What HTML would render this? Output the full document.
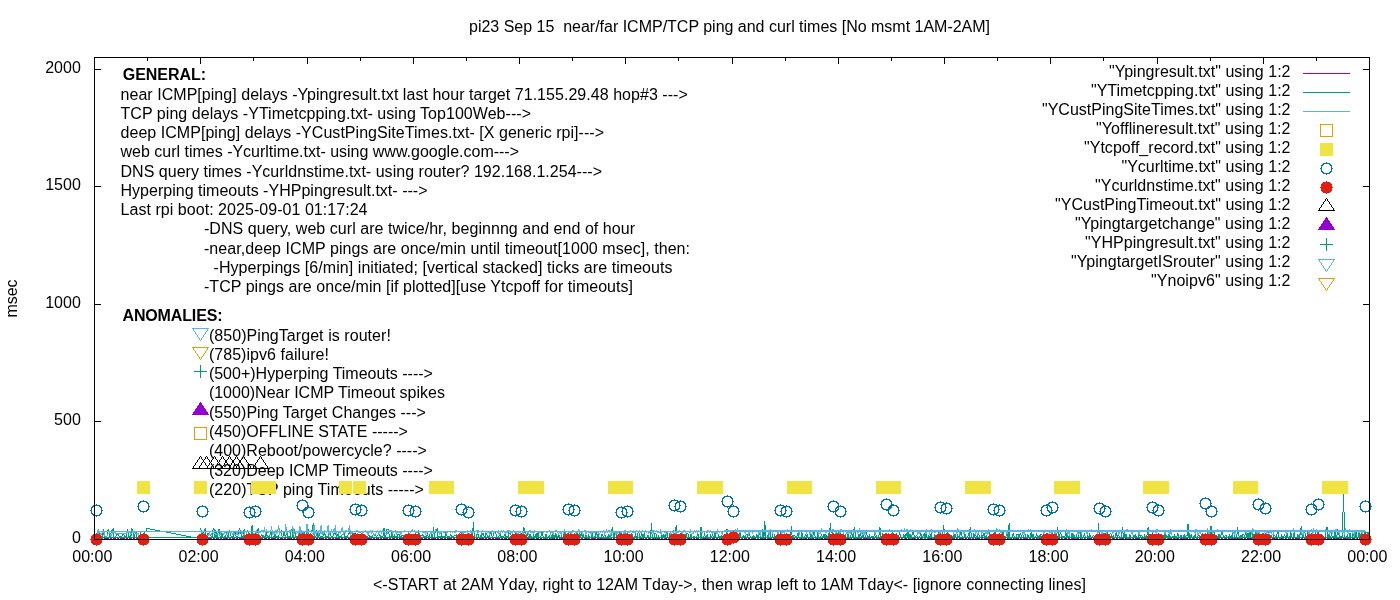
<!DOCTYPE html>
<html lang="en"><head><meta charset="utf-8"><title>pi23 ping chart</title>
<style>html,body{margin:0;padding:0;background:#fff;overflow:hidden}svg{display:block}text{font-family:"Liberation Sans", sans-serif;font-size:16px;fill:#000;white-space:pre}.b{font-weight:bold}.ln{fill:none;stroke-width:1;shape-rendering:crispEdges}.fr{fill:none;stroke:#000;stroke-width:1;shape-rendering:crispEdges}</style></head><body>
<svg width="1400" height="600" viewBox="0 0 1400 600">
<rect x="0" y="0" width="1400" height="600" fill="#fff"/>
<text x="469" y="31.5" textLength="521" lengthAdjust="spacing">pi23 Sep 15  near/far ICMP/TCP ping and curl times [No msmt 1AM-2AM]</text>
<text x="373" y="589.5" textLength="713" lengthAdjust="spacing">&lt;-START at 2AM Yday, right to 12AM Tday-&gt;, then wrap left to 1AM Tday&lt;- [ignore connecting lines]</text>
<text transform="translate(17,298.5) rotate(-90)" text-anchor="middle">msec</text>
<text x="80.8" y="543" text-anchor="end">0</text>
<text x="80.8" y="425" text-anchor="end">500</text>
<text x="80.8" y="308" text-anchor="end">1000</text>
<text x="80.8" y="190" text-anchor="end">1500</text>
<text x="80.8" y="73" text-anchor="end">2000</text>
<text x="92.3" y="561.5" text-anchor="middle">00:00</text>
<text x="198.55" y="561.5" text-anchor="middle">02:00</text>
<text x="304.8" y="561.5" text-anchor="middle">04:00</text>
<text x="411.05" y="561.5" text-anchor="middle">06:00</text>
<text x="517.3" y="561.5" text-anchor="middle">08:00</text>
<text x="623.55" y="561.5" text-anchor="middle">10:00</text>
<text x="729.8" y="561.5" text-anchor="middle">12:00</text>
<text x="836.05" y="561.5" text-anchor="middle">14:00</text>
<text x="942.3" y="561.5" text-anchor="middle">16:00</text>
<text x="1048.55" y="561.5" text-anchor="middle">18:00</text>
<text x="1154.8" y="561.5" text-anchor="middle">20:00</text>
<text x="1261.05" y="561.5" text-anchor="middle">22:00</text>
<text x="1367.3" y="561.5" text-anchor="middle">00:00</text>
<text x="122.8" y="80" textLength="83.2" lengthAdjust="spacing" class="b">GENERAL:</text>
<text x="120.5" y="100" textLength="567.3" lengthAdjust="spacing">near ICMP[ping] delays -Ypingresult.txt last hour target 71.155.29.48 hop#3 ---&gt;</text>
<text x="120.5" y="119" textLength="410.5" lengthAdjust="spacing">TCP ping delays -YTimetcpping.txt- using Top100Web---&gt;</text>
<text x="120.5" y="138" textLength="483.5" lengthAdjust="spacing">deep ICMP[ping] delays -YCustPingSiteTimes.txt- [X generic rpi]---&gt;</text>
<text x="120.5" y="157" textLength="398.5" lengthAdjust="spacing">web curl times -Ycurltime.txt- using www.google.com---&gt;</text>
<text x="120.5" y="176.5" textLength="481.5" lengthAdjust="spacing">DNS query times -Ycurldnstime.txt- using router? 192.168.1.254---&gt;</text>
<text x="120.5" y="195.5" textLength="307" lengthAdjust="spacing">Hyperping timeouts -YHPpingresult.txt- ---&gt;</text>
<text x="120.5" y="215" textLength="247" lengthAdjust="spacing">Last rpi boot: 2025-09-01 01:17:24</text>
<text x="204" y="234" textLength="431" lengthAdjust="spacing">-DNS query, web curl are twice/hr, beginnng and end of hour</text>
<text x="204" y="253.5" textLength="486" lengthAdjust="spacing">-near,deep ICMP pings are once/min until timeout[1000 msec], then:</text>
<text x="213.5" y="272.5" textLength="459" lengthAdjust="spacing">-Hyperpings [6/min] initiated; [vertical stacked] ticks are timeouts</text>
<text x="204" y="292" textLength="429" lengthAdjust="spacing">-TCP pings are once/min [if plotted][use Ytcpoff for timeouts]</text>
<text x="122.5" y="321" textLength="100" lengthAdjust="spacing" class="b">ANOMALIES:</text>
<text x="208.9" y="340.8" textLength="182" lengthAdjust="spacing">(850)PingTarget is router!</text>
<text x="208.9" y="359.8" textLength="120" lengthAdjust="spacing">(785)ipv6 failure!</text>
<text x="208.9" y="379.3" textLength="224" lengthAdjust="spacing">(500+)Hyperping Timeouts ----&gt;</text>
<text x="208.9" y="398.3" textLength="236" lengthAdjust="spacing">(1000)Near ICMP Timeout spikes</text>
<text x="208.9" y="417.8" textLength="217" lengthAdjust="spacing">(550)Ping Target Changes ---&gt;</text>
<text x="208.9" y="436.8" textLength="199" lengthAdjust="spacing">(450)OFFLINE STATE -----&gt;</text>
<text x="208.9" y="456.3" textLength="218" lengthAdjust="spacing">(400)Reboot/powercycle? ----&gt;</text>
<text x="208.9" y="475.8" textLength="224" lengthAdjust="spacing">(320)Deep ICMP Timeouts ----&gt;</text>
<text x="208.9" y="494.8" textLength="215" lengthAdjust="spacing">(220)TCP ping Timeouts -----&gt;</text>
<path class="fr" d="M94.5 539.5v-6M94.5 57.5v6M147.5 539.5v-3M147.5 57.5v3M200.5 539.5v-6M200.5 57.5v6M253.5 539.5v-3M253.5 57.5v3M307.5 539.5v-6M307.5 57.5v6M360.5 539.5v-3M360.5 57.5v3M413.5 539.5v-6M413.5 57.5v6M466.5 539.5v-3M466.5 57.5v3M519.5 539.5v-6M519.5 57.5v6M572.5 539.5v-3M572.5 57.5v3M625.5 539.5v-6M625.5 57.5v6M678.5 539.5v-3M678.5 57.5v3M732.5 539.5v-6M732.5 57.5v6M785.5 539.5v-3M785.5 57.5v3M838.5 539.5v-6M838.5 57.5v6M891.5 539.5v-3M891.5 57.5v3M944.5 539.5v-6M944.5 57.5v6M997.5 539.5v-3M997.5 57.5v3M1050.5 539.5v-6M1050.5 57.5v6M1103.5 539.5v-3M1103.5 57.5v3M1157.5 539.5v-6M1157.5 57.5v6M1210.5 539.5v-3M1210.5 57.5v3M1263.5 539.5v-6M1263.5 57.5v6M1316.5 539.5v-3M1316.5 57.5v3M1369.5 539.5v-6M1369.5 57.5v6M94.5 539.5h6.5M1369.5 539.5h-6.5M94.5 421.5h6.5M1369.5 421.5h-6.5M94.5 304.5h6.5M1369.5 304.5h-6.5M94.5 186.5h6.5M1369.5 186.5h-6.5M94.5 69.5h6.5M1369.5 69.5h-6.5"/>
<path class="ln" stroke="#9400d3" stroke-dasharray="3 1 2 1 5 1 2 1" d="M97 538.5H147M200 538.5H1365"/>
<polyline class="ln" stroke="#009e73" points="200.8,527.8 201.6,536.3 202.5,537.2 203.4,537.1 204.3,530.3 205.2,529.2 206.1,536.8 206.9,537.1 207.8,533.5 208.7,533.2 209.6,533.1 210.5,535.9 211.4,536.2 212.3,536.5 213.1,528.9 214.0,528.9 214.9,537.5 215.8,530.1 216.7,536.7 217.6,536.8 218.5,529.4 219.3,529.6 220.2,537.2 221.1,537.6 222.0,532.9 222.9,537.0 223.8,537.6 224.7,536.2 225.5,537.3 226.4,532.6 227.3,536.1 228.2,536.5 229.1,531.4 230.0,530.7 230.9,536.1 231.7,537.0 232.6,536.6 233.5,537.5 234.4,532.2 235.3,532.5 236.2,537.0 237.1,535.9 237.9,536.6 238.8,530.6 239.7,528.9 240.6,531.3 241.5,537.2 242.4,536.9 243.2,537.4 244.1,528.9 245.0,537.1 245.9,536.1 246.8,531.3 247.7,530.3 248.6,536.0 249.4,536.6 250.3,537.4 251.2,532.6 252.1,524.9 253.0,533.6 253.9,536.5 254.8,536.6 255.6,537.0 256.5,532.3 257.4,532.6 258.3,527.8 259.2,536.7 260.1,537.1 261.0,536.3 261.8,534.5 262.7,537.4 263.6,535.9 264.5,536.5 265.4,536.9 266.3,531.5 267.2,536.6 268.0,536.4 268.9,537.0 269.8,536.7 270.7,530.2 271.6,536.0 272.5,537.6 273.4,536.3 274.2,536.2 275.1,534.4 276.0,537.6 276.9,536.5 277.8,536.2 278.7,536.7 279.6,531.2 280.4,531.2 281.3,531.0 282.2,537.0 283.1,535.9 284.0,532.2 284.9,535.9 285.8,536.8 286.6,528.4 287.5,536.0 288.4,536.3 289.3,536.6 290.2,536.9 291.1,529.8 291.9,529.0 292.8,536.9 293.7,536.7 294.6,528.8 295.5,536.4 296.4,536.4 297.3,536.5 298.1,535.9 299.0,533.3 299.9,533.6 300.8,533.8 301.7,536.0 302.6,536.1 303.5,537.4 304.3,530.8 305.2,536.5 306.1,537.1 307.0,528.5 307.9,528.3 308.8,537.3 309.7,537.5 310.5,536.9 311.4,530.4 312.3,530.5 313.2,523.0 314.1,536.2 315.0,536.1 315.9,536.7 316.7,530.3 317.6,537.6 318.5,537.2 319.4,533.6 320.3,537.6 321.2,536.6 322.1,537.3 322.9,536.4 323.8,534.6 324.7,533.7 325.6,536.2 326.5,536.5 327.4,536.5 328.2,537.3 329.1,532.6 330.0,531.6 330.9,536.1 331.8,537.5 332.7,537.0 333.6,533.7 334.4,533.0 335.3,532.7 336.2,536.1 337.1,536.2 338.0,534.0 338.9,537.3 339.8,536.6 340.6,536.5 341.5,536.5 342.4,534.1 343.3,534.1 344.2,533.9 345.1,537.0 346.0,536.3 346.8,536.1 347.7,536.0 348.6,533.8 349.5,532.9 350.4,533.6 351.3,536.0 352.2,537.0 353.0,533.2 353.9,532.9 354.8,536.9 355.7,537.4 356.6,536.5 357.5,532.9 358.4,536.7 359.2,537.2 360.1,534.8 361.0,537.5 361.9,536.3 362.8,536.6 363.7,537.1 364.6,535.1 365.4,537.4 366.3,537.4 367.2,537.5 368.1,536.0 369.0,534.8 369.9,536.5 370.8,537.3 371.6,536.9 372.5,536.1 373.4,534.3 374.3,535.1 375.2,534.2 376.1,536.2 376.9,536.4 377.8,535.2 378.7,534.5 379.6,534.2 380.5,537.2 381.4,536.7 382.3,536.3 383.1,536.0 384.0,528.0 384.9,536.5 385.8,536.3 386.7,529.5 387.6,529.6 388.5,529.7 389.3,536.5 390.2,537.3 391.1,536.3 392.0,532.4 392.9,537.0 393.8,536.9 394.7,535.0 395.5,536.9 396.4,536.7 397.3,536.3 398.2,534.1 399.1,534.0 400.0,537.4 400.9,536.3 401.7,535.9 402.6,535.2 403.5,536.0 404.4,537.4 405.3,537.5 406.2,535.9 407.1,536.0 407.9,535.4 408.8,535.6 409.7,537.3 410.6,536.0 411.5,537.2 412.4,536.3 413.2,535.5 414.1,536.2 415.0,535.8 415.9,536.4 416.8,536.8 417.7,537.5 418.6,529.6 419.4,537.2 420.3,536.9 421.2,535.1 422.1,535.2 423.0,534.6 423.9,537.3 424.8,536.1 425.6,536.8 426.5,537.3 427.4,534.0 428.3,537.1 429.2,536.7 430.1,533.6 431.0,533.8 431.8,536.1 432.7,537.3 433.6,527.0 434.5,537.4 435.4,529.5 436.3,530.5 437.2,529.4 438.0,536.7 438.9,536.7 439.8,536.0 440.7,537.5 441.6,534.4 442.5,537.2 443.4,536.8 444.2,536.1 445.1,536.3 446.0,532.3 446.9,536.1 447.8,536.4 448.7,536.3 449.6,537.1 450.4,535.1 451.3,536.0 452.2,536.6 453.1,537.0 454.0,536.0 454.9,535.5 455.8,536.1 456.6,534.8 457.5,536.2 458.4,537.1 459.3,536.2 460.2,532.5 461.1,532.0 461.9,536.9 462.8,536.4 463.7,532.9 464.6,537.3 465.5,536.6 466.4,536.3 467.3,535.2 468.1,536.2 469.0,536.8 469.9,536.9 470.8,536.4 471.7,533.3 472.6,534.2 473.5,521.9 474.3,536.0 475.2,537.6 476.1,536.8 477.0,533.6 477.9,534.2 478.8,537.2 479.7,537.3 480.5,536.1 481.4,537.3 482.3,533.3 483.2,533.3 484.1,536.2 485.0,536.8 485.9,533.2 486.7,533.4 487.6,536.9 488.5,536.6 489.4,536.9 490.3,532.9 491.2,532.7 492.1,536.7 492.9,537.0 493.8,532.9 494.7,532.2 495.6,532.3 496.5,536.4 497.4,537.6 498.2,536.9 499.1,536.1 500.0,533.5 500.9,536.4 501.8,536.6 502.7,536.9 503.6,537.3 504.4,534.9 505.3,534.7 506.2,537.0 507.1,536.8 508.0,537.0 508.9,533.0 509.8,533.1 510.6,533.8 511.5,536.1 512.4,536.7 513.3,536.4 514.2,535.0 515.1,536.7 516.0,537.3 516.8,534.1 517.7,536.8 518.6,536.3 519.5,536.8 520.4,534.5 521.3,535.0 522.2,534.8 523.0,537.2 523.9,527.0 524.8,532.2 525.7,532.8 526.6,537.4 527.5,534.4 528.4,537.4 529.2,538.2 530.1,533.6 531.0,538.4 531.9,536.8 532.8,538.2 533.7,534.9 534.6,537.9 535.4,537.2 536.3,533.1 537.2,538.1 538.1,532.7 539.0,537.4 539.9,537.5 540.8,537.2 541.6,532.9 542.5,533.0 543.4,537.8 544.3,538.5 545.2,537.9 546.1,534.1 546.9,538.4 547.8,538.2 548.7,536.8 549.6,536.0 550.5,537.8 551.4,538.8 552.3,534.1 553.1,537.1 554.0,535.3 554.9,537.9 555.8,533.2 556.7,536.9 557.6,537.4 558.5,535.3 559.3,535.4 560.2,538.3 561.1,536.8 562.0,532.1 562.9,531.8 563.8,537.0 564.7,530.8 565.5,537.4 566.4,537.4 567.3,533.0 568.2,538.1 569.1,537.7 570.0,538.8 570.9,532.4 571.7,537.0 572.6,537.2 573.5,535.2 574.4,538.4 575.3,538.2 576.2,534.0 577.1,536.9 577.9,533.1 578.8,538.8 579.7,533.0 580.6,537.1 581.5,534.0 582.4,536.8 583.2,534.3 584.1,537.1 585.0,538.5 585.9,534.3 586.8,537.0 587.7,538.6 588.6,534.2 589.4,538.1 590.3,537.5 591.2,537.8 592.1,531.8 593.0,537.5 593.9,537.2 594.8,538.0 595.6,532.4 596.5,532.8 597.4,536.8 598.3,533.1 599.2,538.2 600.1,537.8 601.0,537.0 601.8,534.9 602.7,534.8 603.6,538.3 604.5,538.2 605.4,536.1 606.3,538.3 607.2,537.2 608.0,536.8 608.9,534.5 609.8,538.6 610.7,538.5 611.6,531.5 612.5,526.6 613.4,537.5 614.2,537.0 615.1,532.2 616.0,531.5 616.9,537.2 617.8,535.8 618.7,537.8 619.6,533.0 620.4,533.9 621.3,538.0 622.2,538.5 623.1,535.4 624.0,537.6 624.9,533.9 625.8,533.5 626.6,537.5 627.5,537.1 628.4,537.6 629.3,535.4 630.2,535.5 631.1,537.5 631.9,533.2 632.8,537.2 633.7,537.9 634.6,538.2 635.5,534.5 636.4,537.6 637.3,538.6 638.1,532.1 639.0,533.2 639.9,538.4 640.8,537.0 641.7,532.2 642.6,538.4 643.5,537.8 644.3,532.1 645.2,537.8 646.1,537.7 647.0,537.2 647.9,535.1 648.8,536.7 649.7,537.2 650.5,538.5 651.4,523.0 652.3,538.8 653.2,537.0 654.1,538.5 655.0,533.4 655.9,533.6 656.7,538.5 657.6,538.2 658.5,535.9 659.4,537.8 660.3,538.0 661.2,537.6 662.1,535.2 662.9,537.2 663.8,534.7 664.7,537.9 665.6,536.9 666.5,531.8 667.4,531.2 668.2,538.5 669.1,537.9 670.0,533.0 670.9,537.3 671.8,537.8 672.7,538.5 673.6,529.8 674.4,536.9 675.3,536.1 676.2,524.9 677.1,538.7 678.0,536.9 678.9,534.2 679.8,537.8 680.6,537.6 681.5,532.4 682.4,538.5 683.3,537.1 684.2,534.2 685.1,534.0 686.0,538.2 686.8,533.0 687.7,533.0 688.6,536.8 689.5,537.9 690.4,538.0 691.3,532.7 692.2,538.0 693.0,537.9 693.9,536.1 694.8,537.6 695.7,537.4 696.6,537.1 697.5,534.9 698.4,534.9 699.2,537.2 700.1,538.0 701.0,527.0 701.9,538.6 702.8,537.3 703.7,537.2 704.6,534.4 705.4,537.9 706.3,537.6 707.2,534.8 708.1,537.5 709.0,538.5 709.9,537.3 710.8,534.8 711.6,538.3 712.5,533.9 713.4,537.5 714.3,536.7 715.2,530.7 716.1,537.5 716.9,537.3 717.8,538.1 718.7,535.3 719.6,537.6 720.5,538.6 721.4,534.8 722.3,538.7 723.1,536.8 724.0,535.0 724.9,538.8 725.8,538.3 726.7,529.5 727.6,529.9 728.5,538.1 729.3,538.7 730.2,538.3 731.1,536.0 732.0,538.6 732.9,538.5 733.8,536.9 734.7,534.8 735.5,537.1 736.4,533.6 737.3,538.6 738.2,538.2 739.1,537.6 740.0,529.7 740.9,537.7 741.7,538.8 742.6,536.9 743.5,536.0 744.4,537.1 745.3,537.1 746.2,534.1 747.1,534.3 747.9,536.7 748.8,534.0 749.7,534.7 750.6,537.7 751.5,538.8 752.4,537.9 753.2,535.2 754.1,537.0 755.0,536.9 755.9,538.1 756.8,533.9 757.7,538.6 758.6,538.7 759.4,530.0 760.3,537.7 761.2,537.7 762.1,537.9 763.0,529.5 763.9,538.5 764.8,520.9 765.6,537.3 766.5,537.6 767.4,538.4 768.3,533.4 769.2,538.4 770.1,537.8 771.0,530.0 771.8,530.7 772.7,537.4 773.6,538.7 774.5,535.2 775.4,538.0 776.3,537.7 777.2,538.2 778.0,534.1 778.9,536.8 779.8,537.8 780.7,533.1 781.6,533.9 782.5,538.2 783.4,537.3 784.2,534.4 785.1,534.0 786.0,537.1 786.9,537.6 787.8,534.8 788.7,538.2 789.6,537.5 790.4,538.6 791.3,526.1 792.2,536.9 793.1,537.1 794.0,534.8 794.9,535.9 795.8,536.9 796.6,537.5 797.5,534.0 798.4,533.6 799.3,538.5 800.2,538.5 801.1,537.1 801.9,532.0 802.8,538.2 803.7,538.5 804.6,538.4 805.5,533.7 806.4,538.4 807.3,533.9 808.1,537.8 809.0,536.9 809.9,538.3 810.8,533.0 811.7,538.0 812.6,537.7 813.5,531.3 814.3,532.1 815.2,536.7 816.1,538.7 817.0,538.2 817.9,530.8 818.8,538.3 819.7,538.6 820.5,537.8 821.4,533.9 822.3,537.1 823.2,537.1 824.1,534.1 825.0,537.5 825.9,534.1 826.7,537.7 827.6,538.6 828.5,533.2 829.4,538.3 830.3,523.0 831.2,532.8 832.1,532.8 832.9,538.4 833.8,537.4 834.7,537.3 835.6,533.1 836.5,533.7 837.4,538.2 838.2,531.8 839.1,537.9 840.0,536.8 840.9,536.8 841.8,534.8 842.7,535.4 843.6,537.7 844.4,538.7 845.3,534.1 846.2,538.2 847.1,537.5 848.0,532.1 848.9,537.6 849.8,538.8 850.6,538.0 851.5,530.6 852.4,537.4 853.3,538.2 854.2,527.0 855.1,532.1 856.0,538.5 856.8,537.2 857.7,537.8 858.6,535.5 859.5,537.6 860.4,532.2 861.3,537.5 862.2,536.7 863.0,533.2 863.9,536.9 864.8,537.6 865.7,536.9 866.6,532.2 867.5,537.3 868.4,538.4 869.2,534.8 870.1,537.5 871.0,536.8 871.9,535.9 872.8,537.1 873.7,537.6 874.6,533.3 875.4,538.2 876.3,535.6 877.2,537.5 878.1,538.7 879.0,534.7 879.9,527.0 880.8,536.8 881.6,538.1 882.5,534.4 883.4,537.3 884.3,537.8 885.2,537.1 886.1,533.0 886.9,533.9 887.8,537.0 888.7,534.1 889.6,537.7 890.5,535.1 891.4,536.8 892.3,531.8 893.1,536.9 894.0,534.2 894.9,538.3 895.8,537.9 896.7,533.0 897.6,538.5 898.5,537.8 899.3,532.9 900.2,534.2 901.1,536.9 902.0,538.0 902.9,538.2 903.8,533.9 904.7,538.6 905.5,535.2 906.4,534.3 907.3,536.9 908.2,530.9 909.1,538.8 910.0,533.9 910.9,538.7 911.7,537.3 912.6,530.9 913.5,531.2 914.4,537.0 915.3,538.0 916.2,535.2 917.1,536.0 917.9,536.7 918.8,537.6 919.7,537.7 920.6,531.8 921.5,536.9 922.4,538.0 923.2,535.1 924.1,534.0 925.0,538.8 925.9,531.4 926.8,537.2 927.7,538.7 928.6,535.5 929.4,536.1 930.3,537.2 931.2,533.5 932.1,538.3 933.0,536.9 933.9,538.5 934.8,534.3 935.6,538.4 936.5,537.9 937.4,537.6 938.3,532.1 939.2,532.4 940.1,538.6 941.0,537.3 941.8,536.7 942.7,535.1 943.6,524.9 944.5,533.5 945.4,537.3 946.3,538.0 947.2,532.7 948.0,532.8 948.9,537.8 949.8,538.2 950.7,538.3 951.6,535.6 952.5,537.0 953.4,537.0 954.2,534.4 955.1,538.0 956.0,533.7 956.9,533.4 957.8,538.5 958.7,536.8 959.6,537.4 960.4,532.5 961.3,532.2 962.2,537.3 963.1,538.2 964.0,537.7 964.9,534.0 965.8,537.1 966.6,537.1 967.5,537.4 968.4,534.3 969.3,537.4 970.2,527.0 971.1,533.7 971.9,537.3 972.8,537.8 973.7,532.9 974.6,537.6 975.5,533.0 976.4,538.7 977.3,537.2 978.1,534.3 979.0,534.7 979.9,537.8 980.8,537.7 981.7,533.4 982.6,538.0 983.5,533.8 984.3,533.5 985.2,537.6 986.1,535.5 987.0,538.0 987.9,538.6 988.8,537.4 989.7,531.7 990.5,537.5 991.4,535.0 992.3,538.0 993.2,534.2 994.1,538.2 995.0,532.0 995.9,537.1 996.7,538.5 997.6,533.7 998.5,537.1 999.4,533.2 1000.3,537.1 1001.2,536.7 1002.1,537.5 1002.9,530.8 1003.8,537.4 1004.7,538.3 1005.6,538.0 1006.5,533.0 1007.4,533.9 1008.2,538.7 1009.1,523.0 1010.0,538.3 1010.9,537.4 1011.8,537.4 1012.7,534.1 1013.6,533.8 1014.4,538.4 1015.3,538.6 1016.2,537.8 1017.1,534.1 1018.0,534.1 1018.9,537.0 1019.8,534.1 1020.6,533.2 1021.5,537.2 1022.4,537.3 1023.3,537.0 1024.2,534.3 1025.1,534.5 1026.0,538.1 1026.8,538.5 1027.7,533.8 1028.6,537.0 1029.5,537.4 1030.4,537.4 1031.3,530.5 1032.2,538.6 1033.0,533.9 1033.9,537.2 1034.8,537.0 1035.7,537.7 1036.6,532.8 1037.5,537.7 1038.4,538.4 1039.2,534.8 1040.1,538.1 1041.0,533.9 1041.9,535.1 1042.8,537.0 1043.7,533.7 1044.6,534.1 1045.4,538.6 1046.3,538.1 1047.2,534.0 1048.1,536.7 1049.0,537.3 1049.9,535.4 1050.8,538.7 1051.6,536.8 1052.5,538.1 1053.4,536.1 1054.3,537.8 1055.2,538.8 1056.1,537.3 1056.9,534.2 1057.8,527.0 1058.7,537.8 1059.6,537.4 1060.5,529.7 1061.4,537.7 1062.3,538.3 1063.1,535.9 1064.0,536.8 1064.9,537.2 1065.8,531.2 1066.7,538.0 1067.6,534.9 1068.5,537.2 1069.3,535.8 1070.2,537.4 1071.1,537.4 1072.0,533.2 1072.9,538.1 1073.8,534.2 1074.7,537.4 1075.5,538.7 1076.4,538.2 1077.3,532.1 1078.2,532.6 1079.1,538.0 1080.0,537.5 1080.9,531.7 1081.7,538.8 1082.6,538.5 1083.5,537.0 1084.4,532.9 1085.3,538.0 1086.2,537.1 1087.1,537.4 1087.9,535.6 1088.8,537.3 1089.7,534.1 1090.6,537.8 1091.5,537.3 1092.4,537.7 1093.2,535.9 1094.1,536.1 1095.0,538.4 1095.9,537.9 1096.8,538.1 1097.7,534.1 1098.6,523.0 1099.4,537.1 1100.3,533.7 1101.2,537.6 1102.1,538.3 1103.0,537.0 1103.9,532.9 1104.8,536.9 1105.6,538.2 1106.5,537.4 1107.4,531.1 1108.3,537.8 1109.2,537.0 1110.1,534.0 1111.0,533.7 1111.8,537.2 1112.7,537.0 1113.6,536.0 1114.5,537.8 1115.4,536.8 1116.3,530.9 1117.2,537.4 1118.0,534.7 1118.9,535.3 1119.8,538.2 1120.7,538.6 1121.6,534.8 1122.5,527.0 1123.4,538.3 1124.2,531.0 1125.1,537.6 1126.0,534.0 1126.9,537.7 1127.8,538.5 1128.7,538.3 1129.6,534.8 1130.4,535.2 1131.3,537.8 1132.2,538.2 1133.1,538.0 1134.0,534.7 1134.9,537.7 1135.8,535.1 1136.6,537.8 1137.5,537.3 1138.4,537.2 1139.3,532.2 1140.2,537.3 1141.1,535.2 1141.9,535.9 1142.8,538.5 1143.7,538.0 1144.6,535.3 1145.5,537.2 1146.4,538.5 1147.3,533.1 1148.1,527.0 1149.0,538.2 1149.9,537.8 1150.8,538.4 1151.7,533.8 1152.6,537.7 1153.5,534.0 1154.3,537.2 1155.2,537.3 1156.1,534.9 1157.0,535.4 1157.9,537.9 1158.8,537.7 1159.7,537.7 1160.5,534.9 1161.4,537.1 1162.3,537.9 1163.2,535.6 1164.1,538.8 1165.0,530.4 1165.9,538.0 1166.7,534.9 1167.6,538.4 1168.5,534.7 1169.4,535.0 1170.3,537.1 1171.2,537.2 1172.1,537.4 1172.9,535.9 1173.8,537.3 1174.7,534.6 1175.6,538.7 1176.5,538.2 1177.4,533.9 1178.2,534.9 1179.1,537.9 1180.0,537.4 1180.9,535.0 1181.8,537.3 1182.7,538.5 1183.6,536.9 1184.4,534.2 1185.3,538.3 1186.2,535.4 1187.1,535.5 1188.0,524.0 1188.9,537.8 1189.8,533.6 1190.6,537.9 1191.5,535.8 1192.4,538.3 1193.3,537.1 1194.2,538.6 1195.1,534.5 1196.0,538.3 1196.8,538.0 1197.7,537.7 1198.6,533.0 1199.5,537.9 1200.4,537.8 1201.3,534.9 1202.2,533.9 1203.0,538.4 1203.9,537.4 1204.8,533.9 1205.7,537.9 1206.6,534.2 1207.5,533.1 1208.4,538.0 1209.2,536.9 1210.1,536.8 1211.0,526.1 1211.9,538.7 1212.8,537.8 1213.7,538.7 1214.6,530.8 1215.4,538.4 1216.3,535.5 1217.2,536.9 1218.1,537.3 1219.0,534.1 1219.9,538.1 1220.8,537.0 1221.6,531.3 1222.5,531.7 1223.4,536.8 1224.3,538.1 1225.2,535.0 1226.1,535.3 1226.9,537.6 1227.8,538.1 1228.7,536.9 1229.6,535.0 1230.5,538.1 1231.4,536.7 1232.3,534.6 1233.1,538.8 1234.0,538.2 1234.9,533.3 1235.8,532.1 1236.7,538.5 1237.6,527.0 1238.5,533.4 1239.3,538.0 1240.2,538.3 1241.1,535.0 1242.0,536.9 1242.9,534.3 1243.8,534.6 1244.7,538.1 1245.5,530.3 1246.4,536.8 1247.3,534.1 1248.2,537.2 1249.1,532.2 1250.0,537.3 1250.9,530.4 1251.7,530.1 1252.6,538.6 1253.5,534.3 1254.4,538.8 1255.3,531.9 1256.2,531.8 1257.1,536.9 1257.9,532.9 1258.8,532.7 1259.7,538.0 1260.6,537.1 1261.5,537.1 1262.4,533.1 1263.2,533.8 1264.1,537.4 1265.0,534.5 1265.9,534.4 1266.8,538.6 1267.7,536.7 1268.6,530.8 1269.4,537.7 1270.3,535.1 1271.2,535.6 1272.1,537.0 1273.0,537.7 1273.9,535.1 1274.8,535.2 1275.6,538.2 1276.5,537.1 1277.4,531.7 1278.3,531.6 1279.2,538.8 1280.1,538.3 1281.0,538.1 1281.8,535.1 1282.7,537.6 1283.6,538.2 1284.5,534.2 1285.4,537.5 1286.3,537.9 1287.2,533.1 1288.0,537.7 1288.9,537.3 1289.8,538.6 1290.7,530.1 1291.6,537.2 1292.5,537.1 1293.4,537.5 1294.2,532.1 1295.1,537.2 1296.0,536.9 1296.9,537.4 1297.8,533.8 1298.7,537.6 1299.6,536.9 1300.4,532.4 1301.3,526.1 1302.2,537.2 1303.1,537.8 1304.0,533.0 1304.9,532.7 1305.8,538.7 1306.6,538.2 1307.5,533.1 1308.4,533.9 1309.3,538.3 1310.2,538.2 1311.1,537.6 1311.9,533.1 1312.8,533.1 1313.7,537.2 1314.6,537.5 1315.5,534.2 1316.4,537.8 1317.3,532.0 1318.1,532.0 1319.0,538.1 1319.9,537.6 1320.8,537.7 1321.7,535.1 1322.6,535.2 1323.5,538.2 1324.3,537.1 1325.2,536.9 1326.1,531.5 1327.0,527.0 1327.9,538.4 1328.8,534.0 1329.7,538.0 1330.5,538.7 1331.4,533.3 1332.3,536.7 1333.2,536.9 1334.1,537.5 1335.0,531.6 1335.9,538.2 1336.7,537.7 1337.6,530.0 1338.5,530.1 1339.4,538.1 1340.3,537.0 1341.2,535.9 1342.5,537.1 1342.5,512.5 1343.5,511.5 1343.5,492.5 1343.5,511.5 1344.5,512.5 1344.5,537.1 1345.6,537.2 1346.5,538.0 1347.4,534.1 1348.2,538.7 1349.1,538.3 1350.0,533.0 1350.9,537.6 1351.8,537.7 1352.7,533.4 1353.6,533.9 1354.4,538.4 1355.3,532.5 1356.2,538.7 1357.1,531.7 1358.0,530.9 1358.9,537.6 1359.8,532.5 1360.6,538.5 1361.5,533.8 1362.4,534.2 1363.3,537.8 1364.2,538.2 1369.0,532.5 1364.0,532.5 1364.0,537.5 97.0,537.5 97.2,537.6 98.0,535.9 98.9,537.1 99.8,532.4 100.7,536.9 101.6,536.2 102.5,537.6 103.4,528.9 104.2,537.0 105.1,537.2 106.0,537.3 106.9,537.1 107.8,530.3 108.7,529.2 109.6,537.6 110.4,537.5 111.3,530.6 112.2,531.1 113.1,529.2 114.0,536.9 114.9,537.4 115.8,536.5 116.6,534.8 117.5,534.0 118.4,534.3 119.3,536.3 120.2,536.6 121.1,537.3 121.9,536.4 122.8,534.7 123.7,534.4 124.6,537.4 125.5,536.5 126.4,536.3 127.3,529.6 128.1,532.4 129.0,536.6 129.9,536.0 130.8,537.5 131.7,528.9 132.6,529.8 133.5,536.2 134.3,536.5 135.2,533.0 136.1,532.6 137.0,536.8 137.9,537.6 138.8,536.1 139.7,536.2 140.5,534.0 141.4,537.4 142.3,536.7 143.2,536.4 144.1,537.0 145.0,531.3 145.9,531.8 146.7,528.7 147.5,528.5 194.0,537.5 200.5,537.5"/>
<polyline class="ln" stroke="#56b4e9" points="200.8,532.2 201.6,532.2 202.5,533.2 203.4,533.2 204.3,533.2 205.2,534.3 206.1,535.3 206.9,535.3 207.8,535.3 208.7,535.3 209.6,533.2 210.5,534.3 211.4,534.3 212.3,532.2 213.1,533.2 214.0,533.2 214.9,533.2 215.8,534.3 216.7,534.3 217.6,534.3 218.5,534.3 219.3,535.3 220.2,534.3 221.1,531.5 222.0,533.2 222.9,533.2 223.8,534.3 224.7,532.2 225.5,532.2 226.4,533.2 227.3,533.2 228.2,532.2 229.1,532.2 230.0,532.2 230.9,532.2 231.7,532.2 232.6,534.3 233.5,532.2 234.4,534.3 235.3,534.3 236.2,534.3 237.1,532.2 237.9,534.3 238.8,535.3 239.7,531.5 240.6,531.5 241.5,533.2 242.4,532.2 243.2,534.3 244.1,534.3 245.0,531.5 245.9,531.5 246.8,535.3 247.7,535.3 248.6,535.3 249.4,535.3 250.3,535.3 251.2,535.3 252.1,535.3 253.0,536.2 253.9,533.2 254.8,533.2 255.6,533.2 256.5,531.5 257.4,535.3 258.3,534.2 259.2,531.7 260.1,532.5 261.0,531.7 261.8,530.1 262.7,531.0 263.6,532.5 264.5,527.1 265.4,534.0 266.3,530.1 267.2,531.7 268.0,532.5 268.9,531.7 269.8,531.7 270.7,531.7 271.6,526.1 272.5,534.9 273.4,532.5 274.2,533.4 275.1,532.5 276.0,530.1 276.9,533.4 277.8,531.0 278.7,524.7 279.6,534.7 280.4,531.7 281.3,532.5 282.2,531.7 283.1,531.7 284.0,531.0 284.9,531.7 285.8,524.1 286.6,534.0 287.5,531.7 288.4,531.7 289.3,532.5 290.2,530.1 291.1,531.7 291.9,531.0 292.8,526.3 293.7,533.9 294.6,533.4 295.5,531.7 296.4,533.4 297.3,532.5 298.1,531.0 299.0,533.4 299.9,526.0 300.8,535.0 301.7,531.0 302.6,533.4 303.5,532.5 304.3,531.0 305.2,531.7 306.1,531.7 307.0,524.0 307.9,535.2 308.8,531.7 309.7,531.0 310.5,531.0 311.4,531.7 312.3,533.4 313.2,533.4 314.1,524.7 315.0,534.4 315.9,532.5 316.7,533.4 317.6,531.7 318.5,533.4 319.4,531.0 320.3,532.5 321.2,524.6 322.1,535.1 322.9,531.7 323.8,533.4 324.7,531.0 325.6,531.7 326.5,532.5 327.4,530.1 328.2,525.0 329.1,534.8 330.0,531.0 330.9,532.5 331.8,530.1 332.7,532.5 333.6,530.1 334.4,533.4 335.3,524.9 336.2,534.9 337.1,531.7 338.0,531.7 338.9,533.4 339.8,532.5 340.6,533.4 341.5,531.0 342.4,526.6 343.3,534.6 344.2,532.5 345.1,532.5 346.0,530.1 346.8,531.7 347.7,531.7 348.6,531.7 349.5,524.6 350.4,534.9 351.3,533.4 352.2,532.4 353.0,531.2 353.9,532.0 354.8,531.4 355.7,532.4 356.6,530.1 357.5,530.2 358.4,532.2 359.2,532.4 360.1,532.6 361.0,531.5 361.9,531.5 362.8,533.2 363.7,531.3 364.6,531.2 365.4,530.8 366.3,532.0 367.2,532.4 368.1,534.8 369.0,531.4 369.9,532.3 370.8,530.2 371.6,532.5 372.5,531.1 373.4,534.7 374.3,534.1 375.2,534.2 376.1,532.7 376.9,531.3 377.8,530.3 378.7,534.4 379.6,531.2 380.5,530.5 381.4,533.0 382.3,530.6 383.1,532.0 384.0,531.9 384.9,532.7 385.8,533.5 386.7,534.5 387.6,531.7 388.5,530.4 389.3,531.7 390.2,530.1 391.1,530.5 392.0,531.3 392.9,533.2 393.8,532.2 394.7,531.3 395.5,530.5 396.4,534.1 397.3,531.8 398.2,532.2 399.1,532.3 400.0,532.5 400.9,534.5 401.7,531.6 402.6,532.0 403.5,531.8 404.4,530.2 405.3,531.3 406.2,531.6 407.1,531.9 407.9,531.4 408.8,534.4 409.7,533.7 410.6,531.3 411.5,531.2 412.4,530.2 413.2,531.8 414.1,531.4 415.0,530.7 415.9,533.5 416.8,531.2 417.7,532.2 418.6,531.4 419.4,531.8 420.3,531.7 421.2,531.4 422.1,531.5 423.0,532.6 423.9,533.0 424.8,531.2 425.6,533.7 426.5,532.1 427.4,532.3 428.3,531.8 429.2,532.0 430.1,531.6 431.0,533.6 431.8,531.7 432.7,532.1 433.6,533.0 434.5,532.7 435.4,530.1 436.3,531.3 437.2,531.2 438.0,532.0 438.9,532.3 439.8,534.3 440.7,533.3 441.6,531.1 442.5,531.4 443.4,532.5 444.2,533.0 445.1,531.2 446.0,531.2 446.9,533.6 447.8,531.5 448.7,531.6 449.6,531.8 450.4,532.7 451.3,531.3 452.2,532.6 453.1,531.8 454.0,531.2 454.9,533.0 455.8,530.5 456.6,531.1 457.5,531.7 458.4,531.3 459.3,532.0 460.2,531.3 461.1,531.6 461.9,532.4 462.8,533.4 463.7,532.9 464.6,532.4 465.5,532.2 466.4,531.9 467.3,531.2 468.1,534.0 469.0,533.2 469.9,533.8 470.8,530.4 471.7,532.2 472.6,532.1 473.5,532.0 474.3,532.5 475.2,531.6 476.1,531.9 477.0,530.3 477.9,533.4 478.8,530.8 479.7,531.1 480.5,531.1 481.4,532.6 482.3,530.5 483.2,531.1 484.1,531.1 485.0,532.3 485.9,531.8 486.7,531.2 487.6,532.6 488.5,531.7 489.4,533.9 490.3,531.6 491.2,532.3 492.1,530.5 492.9,530.4 493.8,532.7 494.7,532.2 495.6,531.9 496.5,531.9 497.4,532.2 498.2,530.8 499.1,533.9 500.0,534.2 500.9,531.8 501.8,530.6 502.7,532.6 503.6,530.6 504.4,531.7 505.3,533.7 506.2,532.0 507.1,532.7 508.0,530.4 508.9,531.2 509.8,530.2 510.6,532.4 511.5,531.7 512.4,533.0 513.3,530.5 514.2,532.5 515.1,532.6 516.0,532.5 516.8,532.2 517.7,534.7 518.6,531.6 519.5,531.5 520.4,533.6 521.3,531.5 522.2,532.3 523.0,534.4 523.9,532.3 524.8,531.3 525.7,532.0 526.6,531.4 527.5,532.0 528.4,533.5 529.2,530.3 530.1,530.4 531.0,533.2 531.9,531.9 532.8,532.6 533.7,533.5 534.6,530.5 535.4,531.2 536.3,531.3 537.2,532.1 538.1,532.3 539.0,532.4 539.9,533.0 540.8,532.6 541.6,531.2 542.5,531.6 543.4,532.4 544.3,531.6 545.2,531.3 546.1,532.3 546.9,531.6 547.8,532.2 548.7,531.9 549.6,530.4 550.5,533.6 551.4,531.9 552.3,531.9 553.1,534.5 554.0,531.2 554.9,531.3 555.8,530.4 556.7,531.4 557.6,532.2 558.5,533.9 559.3,532.6 560.2,531.7 561.1,534.6 562.0,531.7 562.9,532.0 563.8,533.1 564.7,530.2 565.5,532.4 566.4,531.1 567.3,531.8 568.2,532.0 569.1,532.2 570.0,532.5 570.9,532.0 571.7,533.6 572.6,530.5 573.5,530.5 574.4,531.4 575.3,532.0 576.2,532.5 577.1,532.5 577.9,531.7 578.8,530.0 579.7,532.4 580.6,532.0 581.5,531.4 582.4,533.7 583.2,531.7 584.1,531.2 585.0,530.0 585.9,534.6 586.8,531.4 587.7,531.7 588.6,532.4 589.4,532.6 590.3,532.3 591.2,534.2 592.1,531.4 593.0,532.6 593.9,531.7 594.8,532.3 595.6,531.9 596.5,531.8 597.4,532.6 598.3,532.2 599.2,534.7 600.1,532.4 601.0,531.4 601.8,531.3 602.7,532.3 603.6,530.6 604.5,534.7 605.4,531.9 606.3,530.2 607.2,532.6 608.0,532.1 608.9,530.3 609.8,532.1 610.7,534.6 611.6,533.5 612.5,531.5 613.4,532.4 614.2,532.6 615.1,532.0 616.0,534.4 616.9,531.1 617.8,533.1 618.7,531.7 619.6,531.7 620.4,532.1 621.3,532.6 622.2,531.4 623.1,532.4 624.0,534.7 624.9,530.3 625.8,532.0 626.6,534.8 627.5,531.8 628.4,532.0 629.3,532.6 630.2,530.3 631.1,531.5 631.9,531.6 632.8,532.9 633.7,531.0 634.6,532.4 635.5,532.1 636.4,530.4 637.3,531.5 638.1,531.3 639.0,531.3 639.9,530.8 640.8,532.5 641.7,532.5 642.6,530.7 643.5,531.6 644.3,532.3 645.2,530.8 646.1,532.1 647.0,532.1 647.9,531.7 648.8,533.5 649.7,532.2 650.5,531.8 651.4,532.0 652.3,530.6 653.2,533.4 654.1,530.1 655.0,531.2 655.9,531.6 656.7,530.3 657.6,532.6 658.5,532.3 659.4,532.1 660.3,530.3 661.2,534.5 662.1,531.2 662.9,531.1 663.8,532.0 664.7,532.0 665.6,532.0 666.5,534.3 667.4,532.0 668.2,531.9 669.1,531.4 670.0,532.0 670.9,534.2 671.8,533.4 672.7,532.1 673.6,533.8 674.4,531.1 675.3,531.8 676.2,534.0 677.1,532.2 678.0,531.1 678.9,532.2 679.8,530.5 680.6,531.8 681.5,532.5 682.4,533.5 683.3,530.7 684.2,530.2 685.1,531.9 686.0,532.2 686.8,531.3 687.7,531.9 688.6,531.2 689.5,532.0 690.4,530.5 691.3,534.4 692.2,533.4 693.0,533.9 693.9,531.6 694.8,530.6 695.7,532.4 696.6,530.8 697.5,532.5 698.4,530.5 699.2,531.5 700.1,531.5 701.0,531.8 701.9,532.7 702.8,532.2 703.7,531.2 704.6,532.5 705.4,531.8 706.3,532.1 707.2,532.2 708.1,530.2 709.0,531.2 709.9,532.3 710.8,530.4 711.6,531.7 712.5,533.7 713.4,532.6 714.3,532.7 715.2,531.6 716.1,532.5 716.9,534.1 717.8,530.3 718.7,532.0 719.6,532.3 720.5,531.2 721.4,532.0 722.3,534.2 723.1,531.2 724.0,532.3 724.9,530.6 725.8,531.2 726.7,530.3 727.6,533.0 728.5,531.4 729.3,530.6 730.2,531.5 731.1,531.6 732.0,531.0 732.9,531.7 733.8,531.6 734.7,531.5 735.5,529.7 736.4,530.8 737.3,529.2 738.2,531.2 739.1,531.3 740.0,533.1 740.9,530.5 741.7,530.8 742.6,531.4 743.5,530.5 744.4,532.9 745.3,533.1 746.2,530.7 747.1,530.8 747.9,530.4 748.8,534.6 749.7,533.1 750.6,530.9 751.5,530.9 752.4,533.3 753.2,531.0 754.1,531.7 755.0,531.2 755.9,531.4 756.8,530.4 757.7,530.8 758.6,533.5 759.4,531.7 760.3,534.7 761.2,531.0 762.1,530.7 763.0,530.4 763.9,530.6 764.8,531.6 765.6,530.8 766.5,531.1 767.4,531.5 768.3,531.4 769.2,534.6 770.1,529.1 771.0,530.7 771.8,531.1 772.7,533.1 773.6,530.5 774.5,531.7 775.4,531.3 776.3,531.1 777.2,530.5 778.0,534.2 778.9,530.8 779.8,531.2 780.7,531.7 781.6,533.3 782.5,531.4 783.4,531.3 784.2,533.6 785.1,530.6 786.0,531.6 786.9,531.1 787.8,529.7 788.7,530.4 789.6,530.6 790.4,531.2 791.3,530.5 792.2,531.4 793.1,531.2 794.0,531.1 794.9,531.3 795.8,531.2 796.6,530.6 797.5,530.7 798.4,530.7 799.3,534.7 800.2,530.4 801.1,530.8 801.9,531.5 802.8,530.6 803.7,531.6 804.6,530.9 805.5,530.4 806.4,532.9 807.3,530.7 808.1,530.1 809.0,531.5 809.9,534.5 810.8,531.3 811.7,530.8 812.6,533.0 813.5,530.8 814.3,531.6 815.2,530.5 816.1,531.0 817.0,530.7 817.9,531.2 818.8,534.2 819.7,533.2 820.5,533.1 821.4,528.9 822.3,531.2 823.2,530.4 824.1,531.7 825.0,531.1 825.9,532.9 826.7,531.0 827.6,531.6 828.5,531.0 829.4,530.5 830.3,530.5 831.2,531.0 832.1,531.5 832.9,529.0 833.8,530.1 834.7,530.8 835.6,534.6 836.5,530.6 837.4,531.7 838.2,530.8 839.1,530.7 840.0,535.0 840.9,529.1 841.8,529.2 842.7,531.4 843.6,534.0 844.4,530.8 845.3,530.8 846.2,531.0 847.1,534.1 848.0,530.5 848.9,533.3 849.8,531.7 850.6,532.8 851.5,530.9 852.4,531.2 853.3,531.2 854.2,532.9 855.1,530.8 856.0,531.5 856.8,531.1 857.7,533.2 858.6,531.7 859.5,529.4 860.4,531.2 861.3,533.7 862.2,531.4 863.0,534.5 863.9,530.9 864.8,534.3 865.7,531.5 866.6,530.7 867.5,531.0 868.4,531.6 869.2,531.4 870.1,530.4 871.0,531.3 871.9,531.2 872.8,530.5 873.7,531.2 874.6,532.8 875.4,534.1 876.3,530.5 877.2,530.4 878.1,530.8 879.0,531.4 879.9,530.4 880.8,530.5 881.6,531.3 882.5,530.4 883.4,530.5 884.3,530.4 885.2,531.4 886.1,531.5 886.9,531.7 887.8,530.9 888.7,531.7 889.6,530.0 890.5,531.7 891.4,531.2 892.3,531.3 893.1,530.6 894.0,531.3 894.9,531.4 895.8,531.6 896.7,531.2 897.6,530.6 898.5,531.2 899.3,530.6 900.2,530.6 901.1,529.8 902.0,530.6 902.9,531.4 903.8,530.9 904.7,529.1 905.5,531.1 906.4,529.3 907.3,529.3 908.2,530.8 909.1,531.4 910.0,530.4 910.9,529.4 911.7,531.6 912.6,531.2 913.5,531.6 914.4,530.6 915.3,531.3 916.2,531.0 917.1,531.2 917.9,534.1 918.8,530.7 919.7,533.0 920.6,531.5 921.5,530.4 922.4,530.9 923.2,530.3 924.1,531.0 925.0,530.6 925.9,534.1 926.8,530.4 927.7,531.3 928.6,530.6 929.4,533.7 930.3,530.8 931.2,529.4 932.1,533.0 933.0,531.1 933.9,530.8 934.8,532.8 935.6,531.6 936.5,530.6 937.4,530.9 938.3,530.3 939.2,531.6 940.1,534.3 941.0,531.6 941.8,531.6 942.7,530.9 943.6,530.8 944.5,533.7 945.4,530.4 946.3,531.3 947.2,530.9 948.0,531.1 948.9,531.1 949.8,531.2 950.7,531.3 951.6,531.0 952.5,530.7 953.4,533.5 954.2,530.4 955.1,530.6 956.0,531.2 956.9,533.5 957.8,529.1 958.7,531.0 959.6,534.8 960.4,530.3 961.3,531.6 962.2,531.3 963.1,531.1 964.0,533.8 964.9,531.6 965.8,530.4 966.6,530.4 967.5,530.8 968.4,531.6 969.3,531.1 970.2,531.3 971.1,531.3 971.9,531.3 972.8,531.1 973.7,531.7 974.6,529.6 975.5,535.0 976.4,531.6 977.3,534.1 978.1,533.4 979.0,531.2 979.9,531.1 980.8,531.6 981.7,533.9 982.6,530.8 983.5,530.7 984.3,531.1 985.2,531.5 986.1,533.7 987.0,530.7 987.9,534.7 988.8,530.1 989.7,531.4 990.5,531.0 991.4,531.1 992.3,530.4 993.2,531.4 994.1,531.2 995.0,531.0 995.9,530.5 996.7,529.1 997.6,530.5 998.5,531.5 999.4,529.8 1000.3,530.8 1001.2,533.5 1002.1,530.0 1002.9,531.5 1003.8,531.1 1004.7,531.5 1005.6,531.2 1006.5,533.9 1007.4,533.3 1008.2,531.2 1009.1,531.3 1010.0,531.2 1010.9,531.1 1011.8,530.5 1012.7,531.6 1013.6,531.4 1014.4,531.1 1015.3,531.5 1016.2,531.1 1017.1,531.1 1018.0,531.3 1018.9,531.1 1019.8,530.6 1020.6,531.4 1021.5,530.6 1022.4,533.7 1023.3,530.8 1024.2,534.5 1025.1,530.7 1026.0,531.5 1026.8,531.4 1027.7,531.0 1028.6,529.9 1029.5,531.0 1030.4,530.0 1031.3,531.7 1032.2,531.6 1033.0,531.2 1033.9,531.4 1034.8,531.5 1035.7,531.5 1036.6,531.0 1037.5,530.6 1038.4,531.0 1039.2,530.5 1040.1,531.7 1041.0,531.7 1041.9,531.7 1042.8,531.5 1043.7,534.8 1044.6,530.8 1045.4,530.9 1046.3,531.4 1047.2,531.7 1048.1,531.6 1049.0,531.6 1049.9,533.8 1050.8,530.9 1051.6,533.6 1052.5,531.3 1053.4,530.4 1054.3,531.1 1055.2,534.9 1056.1,530.6 1056.9,530.0 1057.8,531.7 1058.7,531.6 1059.6,530.8 1060.5,530.5 1061.4,531.0 1062.3,531.3 1063.1,531.7 1064.0,531.4 1064.9,531.5 1065.8,530.8 1066.7,529.9 1067.6,533.6 1068.5,531.7 1069.3,534.5 1070.2,530.8 1071.1,530.5 1072.0,531.3 1072.9,531.5 1073.8,530.4 1074.7,531.2 1075.5,531.6 1076.4,530.4 1077.3,530.7 1078.2,534.4 1079.1,533.3 1080.0,531.5 1080.9,531.6 1081.7,533.1 1082.6,531.0 1083.5,530.7 1084.4,530.4 1085.3,531.6 1086.2,530.9 1087.1,534.2 1087.9,531.3 1088.8,531.5 1089.7,531.4 1090.6,530.5 1091.5,529.9 1092.4,530.8 1093.2,531.0 1094.1,531.2 1095.0,530.6 1095.9,531.0 1096.8,531.3 1097.7,534.3 1098.6,530.8 1099.4,530.7 1100.3,531.5 1101.2,531.2 1102.1,534.5 1103.0,530.5 1103.9,531.6 1104.8,530.7 1105.6,531.0 1106.5,533.6 1107.4,530.4 1108.3,530.5 1109.2,531.5 1110.1,531.3 1111.0,530.7 1111.8,531.7 1112.7,533.6 1113.6,531.5 1114.5,530.5 1115.4,531.1 1116.3,531.0 1117.2,531.5 1118.0,531.7 1118.9,535.0 1119.8,530.9 1120.7,530.5 1121.6,531.6 1122.5,531.0 1123.4,531.1 1124.2,531.3 1125.1,531.7 1126.0,530.5 1126.9,529.4 1127.8,529.8 1128.7,531.1 1129.6,530.6 1130.4,531.7 1131.3,531.4 1132.2,534.5 1133.1,531.6 1134.0,530.9 1134.9,531.7 1135.8,530.7 1136.6,531.1 1137.5,531.7 1138.4,531.3 1139.3,535.0 1140.2,530.7 1141.1,531.0 1141.9,531.4 1142.8,530.5 1143.7,531.6 1144.6,531.1 1145.5,531.3 1146.4,530.6 1147.3,531.3 1148.1,531.3 1149.0,529.9 1149.9,531.0 1150.8,530.7 1151.7,531.0 1152.6,534.9 1153.5,531.1 1154.3,531.0 1155.2,530.8 1156.1,533.5 1157.0,529.3 1157.9,531.5 1158.8,531.4 1159.7,530.8 1160.5,530.9 1161.4,531.1 1162.3,530.4 1163.2,531.3 1164.1,531.5 1165.0,533.9 1165.9,531.7 1166.7,530.9 1167.6,531.7 1168.5,531.3 1169.4,533.4 1170.3,530.5 1171.2,534.3 1172.1,531.4 1172.9,531.5 1173.8,531.4 1174.7,530.8 1175.6,531.7 1176.5,531.5 1177.4,531.4 1178.2,531.5 1179.1,530.5 1180.0,531.0 1180.9,531.6 1181.8,530.6 1182.7,530.8 1183.6,530.6 1184.4,531.1 1185.3,530.6 1186.2,531.2 1187.1,530.9 1188.0,531.0 1188.9,530.7 1189.8,531.1 1190.6,531.2 1191.5,530.4 1192.4,530.4 1193.3,531.6 1194.2,531.3 1195.1,533.1 1196.0,529.6 1196.8,530.9 1197.7,534.8 1198.6,535.0 1199.5,531.0 1200.4,533.0 1201.3,531.0 1202.2,531.1 1203.0,531.2 1203.9,531.7 1204.8,530.5 1205.7,530.4 1206.6,531.4 1207.5,529.5 1208.4,531.2 1209.2,534.7 1210.1,531.3 1211.0,530.6 1211.9,530.9 1212.8,533.9 1213.7,531.0 1214.6,531.3 1215.4,531.2 1216.3,531.5 1217.2,529.8 1218.1,531.6 1219.0,531.2 1219.9,530.5 1220.8,530.6 1221.6,531.2 1222.5,530.5 1223.4,530.8 1224.3,530.8 1225.2,531.1 1226.1,531.5 1226.9,530.6 1227.8,531.1 1228.7,531.5 1229.6,531.1 1230.5,530.5 1231.4,531.3 1232.3,530.8 1233.1,533.4 1234.0,531.6 1234.9,534.4 1235.8,530.5 1236.7,530.5 1237.6,531.6 1238.5,530.6 1239.3,530.6 1240.2,530.6 1241.1,531.3 1242.0,530.7 1242.9,530.8 1243.8,530.7 1244.7,530.0 1245.5,530.5 1246.4,533.0 1247.3,531.0 1248.2,531.1 1249.1,531.4 1250.0,531.2 1250.9,531.6 1251.7,535.0 1252.6,529.0 1253.5,529.2 1254.4,531.6 1255.3,531.5 1256.2,530.5 1257.1,533.2 1257.9,530.5 1258.8,534.3 1259.7,531.6 1260.6,530.6 1261.5,531.1 1262.4,530.5 1263.2,530.8 1264.1,530.8 1265.0,533.1 1265.9,534.3 1266.8,531.6 1267.7,531.6 1268.6,534.9 1269.4,530.6 1270.3,532.7 1271.2,531.7 1272.1,534.4 1273.0,535.0 1273.9,530.9 1274.8,531.0 1275.6,530.9 1276.5,531.7 1277.4,531.0 1278.3,531.5 1279.2,531.2 1280.1,530.4 1281.0,530.0 1281.8,531.4 1282.7,531.7 1283.6,531.7 1284.5,530.8 1285.4,530.5 1286.3,534.4 1287.2,530.4 1288.0,531.0 1288.9,531.3 1289.8,531.6 1290.7,531.5 1291.6,530.4 1292.5,531.3 1293.4,529.4 1294.2,531.4 1295.1,531.2 1296.0,531.2 1296.9,530.5 1297.8,530.4 1298.7,531.3 1299.6,531.3 1300.4,531.5 1301.3,531.3 1302.2,534.0 1303.1,534.9 1304.0,530.4 1304.9,531.6 1305.8,531.3 1306.6,530.9 1307.5,531.5 1308.4,531.1 1309.3,534.9 1310.2,530.9 1311.1,530.6 1311.9,529.7 1312.8,534.4 1313.7,529.9 1314.6,531.6 1315.5,531.7 1316.4,529.4 1317.3,530.9 1318.1,530.5 1319.0,531.1 1319.9,531.5 1320.8,531.2 1321.7,530.4 1322.6,531.0 1323.5,531.0 1324.3,531.6 1325.2,529.9 1326.1,530.7 1327.0,530.5 1327.9,531.3 1328.8,530.5 1329.7,534.4 1330.5,531.2 1331.4,531.4 1332.3,533.4 1333.2,531.3 1334.1,530.4 1335.0,530.9 1335.9,529.6 1336.7,529.8 1337.6,531.6 1338.5,531.2 1339.4,533.8 1340.3,531.2 1341.2,530.8 1342.1,531.1 1342.9,532.9 1343.8,531.7 1344.7,534.0 1345.6,529.2 1346.5,530.5 1347.4,530.7 1348.2,533.7 1349.1,529.6 1350.0,530.8 1350.9,530.7 1351.8,530.7 1352.7,533.7 1353.6,533.2 1354.4,535.0 1355.3,530.9 1356.2,530.5 1357.1,530.7 1358.0,530.9 1358.9,533.0 1359.8,531.1 1360.6,531.3 1361.5,530.4 1362.4,534.3 1363.3,530.4 1364.2,530.5 1365.0,531.5 97.5,531.5 98.5,529.5 97.2,532.2 98.0,536.2 98.9,531.5 99.8,531.5 100.7,536.2 101.6,533.2 102.5,532.2 103.4,532.2 104.2,532.2 105.1,536.2 106.0,536.2 106.9,536.2 107.8,534.3 108.7,533.2 109.6,532.2 110.4,535.3 111.3,535.3 112.2,533.2 113.1,532.2 114.0,532.2 114.9,532.2 115.8,533.2 116.6,533.2 117.5,533.2 118.4,533.2 119.3,533.2 120.2,533.2 121.1,533.2 121.9,533.2 122.8,533.2 123.7,533.2 124.6,533.2 125.5,533.2 126.4,533.2 127.3,532.2 128.1,532.2 129.0,532.2 129.9,532.2 130.8,534.3 131.7,533.2 132.6,532.2 133.5,532.2 134.3,532.2 135.2,532.2 136.1,533.2 137.0,533.2 137.9,533.2 138.8,535.3 139.7,535.3 140.5,535.3 141.4,534.3 142.3,534.3 143.2,534.3 144.1,534.3 145.0,534.3 145.9,534.3 146.7,534.3"/>
<polyline class="ln" stroke="#56b4e9" points="726.0,530.5 1365.0,530.5"/>
<rect x="194.5" y="427.5" width="12" height="12" fill="none" stroke="#e69f00" stroke-width="1" shape-rendering="crispEdges"/>
<rect x="137.0" y="481" width="13.0" height="13" fill="#f0e442" shape-rendering="crispEdges"/>
<rect x="194.0" y="481" width="13.0" height="13" fill="#f0e442" shape-rendering="crispEdges"/>
<rect x="251.0" y="481" width="25.0" height="13" fill="#f0e442" shape-rendering="crispEdges"/>
<rect x="339.0" y="481" width="13.0" height="13" fill="#f0e442" shape-rendering="crispEdges"/>
<rect x="353.0" y="481" width="13.0" height="13" fill="#f0e442" shape-rendering="crispEdges"/>
<rect x="429.0" y="481" width="25.0" height="13" fill="#f0e442" shape-rendering="crispEdges"/>
<rect x="518.0" y="481" width="26.0" height="13" fill="#f0e442" shape-rendering="crispEdges"/>
<rect x="608.0" y="481" width="25.0" height="13" fill="#f0e442" shape-rendering="crispEdges"/>
<rect x="697.0" y="481" width="26.0" height="13" fill="#f0e442" shape-rendering="crispEdges"/>
<rect x="787.0" y="481" width="25.0" height="13" fill="#f0e442" shape-rendering="crispEdges"/>
<rect x="876.0" y="481" width="25.0" height="13" fill="#f0e442" shape-rendering="crispEdges"/>
<rect x="965.0" y="481" width="26.0" height="13" fill="#f0e442" shape-rendering="crispEdges"/>
<rect x="1054.0" y="481" width="26.0" height="13" fill="#f0e442" shape-rendering="crispEdges"/>
<rect x="1143.0" y="481" width="26.0" height="13" fill="#f0e442" shape-rendering="crispEdges"/>
<rect x="1233.0" y="481" width="25.0" height="13" fill="#f0e442" shape-rendering="crispEdges"/>
<rect x="1322.0" y="481" width="26.0" height="13" fill="#f0e442" shape-rendering="crispEdges"/>
<path d="M93.0 505.5h7M92.0 506.5h2M99.0 506.5h2M91.0 507.5h2M100.0 507.5h2M96.5 505.0v-1M93.0 515.5h7M92.0 514.5h2M99.0 514.5h2M91.0 513.5h2M100.0 513.5h2M96.5 516.0v1M91.5 508.0v5M101.5 508.0v5M91.0 510.5h-1M102.0 510.5h1" stroke="#0072b2" stroke-width="1" fill="none" shape-rendering="crispEdges"/>
<path d="M140.0 501.5h7M139.0 502.5h2M146.0 502.5h2M138.0 503.5h2M147.0 503.5h2M143.5 501.0v-1M140.0 511.5h7M139.0 510.5h2M146.0 510.5h2M138.0 509.5h2M147.0 509.5h2M143.5 512.0v1M138.5 504.0v5M148.5 504.0v5M138.0 506.5h-1M149.0 506.5h1" stroke="#0072b2" stroke-width="1" fill="none" shape-rendering="crispEdges"/>
<path d="M199.0 506.5h7M198.0 507.5h2M205.0 507.5h2M197.0 508.5h2M206.0 508.5h2M202.5 506.0v-1M199.0 516.5h7M198.0 515.5h2M205.0 515.5h2M197.0 514.5h2M206.0 514.5h2M202.5 517.0v1M197.5 509.0v5M207.5 509.0v5M197.0 511.5h-1M208.0 511.5h1" stroke="#0072b2" stroke-width="1" fill="none" shape-rendering="crispEdges"/>
<path d="M246.0 507.5h7M245.0 508.5h2M252.0 508.5h2M244.0 509.5h2M253.0 509.5h2M249.5 507.0v-1M246.0 517.5h7M245.0 516.5h2M252.0 516.5h2M244.0 515.5h2M253.0 515.5h2M249.5 518.0v1M244.5 510.0v5M254.5 510.0v5M244.0 512.5h-1M255.0 512.5h1" stroke="#0072b2" stroke-width="1" fill="none" shape-rendering="crispEdges"/>
<path d="M252.0 506.5h7M251.0 507.5h2M258.0 507.5h2M250.0 508.5h2M259.0 508.5h2M255.5 506.0v-1M252.0 516.5h7M251.0 515.5h2M258.0 515.5h2M250.0 514.5h2M259.0 514.5h2M255.5 517.0v1M250.5 509.0v5M260.5 509.0v5M250.0 511.5h-1M261.0 511.5h1" stroke="#0072b2" stroke-width="1" fill="none" shape-rendering="crispEdges"/>
<path d="M299.0 500.5h7M298.0 501.5h2M305.0 501.5h2M297.0 502.5h2M306.0 502.5h2M302.5 500.0v-1M299.0 510.5h7M298.0 509.5h2M305.0 509.5h2M297.0 508.5h2M306.0 508.5h2M302.5 511.0v1M297.5 503.0v5M307.5 503.0v5M297.0 505.5h-1M308.0 505.5h1" stroke="#0072b2" stroke-width="1" fill="none" shape-rendering="crispEdges"/>
<path d="M305.0 507.5h7M304.0 508.5h2M311.0 508.5h2M303.0 509.5h2M312.0 509.5h2M308.5 507.0v-1M305.0 517.5h7M304.0 516.5h2M311.0 516.5h2M303.0 515.5h2M312.0 515.5h2M308.5 518.0v1M303.5 510.0v5M313.5 510.0v5M303.0 512.5h-1M314.0 512.5h1" stroke="#0072b2" stroke-width="1" fill="none" shape-rendering="crispEdges"/>
<path d="M352.0 504.5h7M351.0 505.5h2M358.0 505.5h2M350.0 506.5h2M359.0 506.5h2M355.5 504.0v-1M352.0 514.5h7M351.0 513.5h2M358.0 513.5h2M350.0 512.5h2M359.0 512.5h2M355.5 515.0v1M350.5 507.0v5M360.5 507.0v5M350.0 509.5h-1M361.0 509.5h1" stroke="#0072b2" stroke-width="1" fill="none" shape-rendering="crispEdges"/>
<path d="M358.0 505.5h7M357.0 506.5h2M364.0 506.5h2M356.0 507.5h2M365.0 507.5h2M361.5 505.0v-1M358.0 515.5h7M357.0 514.5h2M364.0 514.5h2M356.0 513.5h2M365.0 513.5h2M361.5 516.0v1M356.5 508.0v5M366.5 508.0v5M356.0 510.5h-1M367.0 510.5h1" stroke="#0072b2" stroke-width="1" fill="none" shape-rendering="crispEdges"/>
<path d="M405.0 505.5h7M404.0 506.5h2M411.0 506.5h2M403.0 507.5h2M412.0 507.5h2M408.5 505.0v-1M405.0 515.5h7M404.0 514.5h2M411.0 514.5h2M403.0 513.5h2M412.0 513.5h2M408.5 516.0v1M403.5 508.0v5M413.5 508.0v5M403.0 510.5h-1M414.0 510.5h1" stroke="#0072b2" stroke-width="1" fill="none" shape-rendering="crispEdges"/>
<path d="M412.0 506.5h7M411.0 507.5h2M418.0 507.5h2M410.0 508.5h2M419.0 508.5h2M415.5 506.0v-1M412.0 516.5h7M411.0 515.5h2M418.0 515.5h2M410.0 514.5h2M419.0 514.5h2M415.5 517.0v1M410.5 509.0v5M420.5 509.0v5M410.0 511.5h-1M421.0 511.5h1" stroke="#0072b2" stroke-width="1" fill="none" shape-rendering="crispEdges"/>
<path d="M458.0 504.5h7M457.0 505.5h2M464.0 505.5h2M456.0 506.5h2M465.0 506.5h2M461.5 504.0v-1M458.0 514.5h7M457.0 513.5h2M464.0 513.5h2M456.0 512.5h2M465.0 512.5h2M461.5 515.0v1M456.5 507.0v5M466.5 507.0v5M456.0 509.5h-1M467.0 509.5h1" stroke="#0072b2" stroke-width="1" fill="none" shape-rendering="crispEdges"/>
<path d="M465.0 507.5h7M464.0 508.5h2M471.0 508.5h2M463.0 509.5h2M472.0 509.5h2M468.5 507.0v-1M465.0 517.5h7M464.0 516.5h2M471.0 516.5h2M463.0 515.5h2M472.0 515.5h2M468.5 518.0v1M463.5 510.0v5M473.5 510.0v5M463.0 512.5h-1M474.0 512.5h1" stroke="#0072b2" stroke-width="1" fill="none" shape-rendering="crispEdges"/>
<path d="M512.0 505.5h7M511.0 506.5h2M518.0 506.5h2M510.0 507.5h2M519.0 507.5h2M515.5 505.0v-1M512.0 515.5h7M511.0 514.5h2M518.0 514.5h2M510.0 513.5h2M519.0 513.5h2M515.5 516.0v1M510.5 508.0v5M520.5 508.0v5M510.0 510.5h-1M521.0 510.5h1" stroke="#0072b2" stroke-width="1" fill="none" shape-rendering="crispEdges"/>
<path d="M518.0 506.5h7M517.0 507.5h2M524.0 507.5h2M516.0 508.5h2M525.0 508.5h2M521.5 506.0v-1M518.0 516.5h7M517.0 515.5h2M524.0 515.5h2M516.0 514.5h2M525.0 514.5h2M521.5 517.0v1M516.5 509.0v5M526.5 509.0v5M516.0 511.5h-1M527.0 511.5h1" stroke="#0072b2" stroke-width="1" fill="none" shape-rendering="crispEdges"/>
<path d="M565.0 504.5h7M564.0 505.5h2M571.0 505.5h2M563.0 506.5h2M572.0 506.5h2M568.5 504.0v-1M565.0 514.5h7M564.0 513.5h2M571.0 513.5h2M563.0 512.5h2M572.0 512.5h2M568.5 515.0v1M563.5 507.0v5M573.5 507.0v5M563.0 509.5h-1M574.0 509.5h1" stroke="#0072b2" stroke-width="1" fill="none" shape-rendering="crispEdges"/>
<path d="M571.0 505.5h7M570.0 506.5h2M577.0 506.5h2M569.0 507.5h2M578.0 507.5h2M574.5 505.0v-1M571.0 515.5h7M570.0 514.5h2M577.0 514.5h2M569.0 513.5h2M578.0 513.5h2M574.5 516.0v1M569.5 508.0v5M579.5 508.0v5M569.0 510.5h-1M580.0 510.5h1" stroke="#0072b2" stroke-width="1" fill="none" shape-rendering="crispEdges"/>
<path d="M618.0 507.5h7M617.0 508.5h2M624.0 508.5h2M616.0 509.5h2M625.0 509.5h2M621.5 507.0v-1M618.0 517.5h7M617.0 516.5h2M624.0 516.5h2M616.0 515.5h2M625.0 515.5h2M621.5 518.0v1M616.5 510.0v5M626.5 510.0v5M616.0 512.5h-1M627.0 512.5h1" stroke="#0072b2" stroke-width="1" fill="none" shape-rendering="crispEdges"/>
<path d="M624.0 506.5h7M623.0 507.5h2M630.0 507.5h2M622.0 508.5h2M631.0 508.5h2M627.5 506.0v-1M624.0 516.5h7M623.0 515.5h2M630.0 515.5h2M622.0 514.5h2M631.0 514.5h2M627.5 517.0v1M622.5 509.0v5M632.5 509.0v5M622.0 511.5h-1M633.0 511.5h1" stroke="#0072b2" stroke-width="1" fill="none" shape-rendering="crispEdges"/>
<path d="M671.0 500.5h7M670.0 501.5h2M677.0 501.5h2M669.0 502.5h2M678.0 502.5h2M674.5 500.0v-1M671.0 510.5h7M670.0 509.5h2M677.0 509.5h2M669.0 508.5h2M678.0 508.5h2M674.5 511.0v1M669.5 503.0v5M679.5 503.0v5M669.0 505.5h-1M680.0 505.5h1" stroke="#0072b2" stroke-width="1" fill="none" shape-rendering="crispEdges"/>
<path d="M677.0 501.5h7M676.0 502.5h2M683.0 502.5h2M675.0 503.5h2M684.0 503.5h2M680.5 501.0v-1M677.0 511.5h7M676.0 510.5h2M683.0 510.5h2M675.0 509.5h2M684.0 509.5h2M680.5 512.0v1M675.5 504.0v5M685.5 504.0v5M675.0 506.5h-1M686.0 506.5h1" stroke="#0072b2" stroke-width="1" fill="none" shape-rendering="crispEdges"/>
<path d="M724.0 496.5h7M723.0 497.5h2M730.0 497.5h2M722.0 498.5h2M731.0 498.5h2M727.5 496.0v-1M724.0 506.5h7M723.0 505.5h2M730.0 505.5h2M722.0 504.5h2M731.0 504.5h2M727.5 507.0v1M722.5 499.0v5M732.5 499.0v5M722.0 501.5h-1M733.0 501.5h1" stroke="#0072b2" stroke-width="1" fill="none" shape-rendering="crispEdges"/>
<path d="M730.0 506.5h7M729.0 507.5h2M736.0 507.5h2M728.0 508.5h2M737.0 508.5h2M733.5 506.0v-1M730.0 516.5h7M729.0 515.5h2M736.0 515.5h2M728.0 514.5h2M737.0 514.5h2M733.5 517.0v1M728.5 509.0v5M738.5 509.0v5M728.0 511.5h-1M739.0 511.5h1" stroke="#0072b2" stroke-width="1" fill="none" shape-rendering="crispEdges"/>
<path d="M777.0 505.5h7M776.0 506.5h2M783.0 506.5h2M775.0 507.5h2M784.0 507.5h2M780.5 505.0v-1M777.0 515.5h7M776.0 514.5h2M783.0 514.5h2M775.0 513.5h2M784.0 513.5h2M780.5 516.0v1M775.5 508.0v5M785.5 508.0v5M775.0 510.5h-1M786.0 510.5h1" stroke="#0072b2" stroke-width="1" fill="none" shape-rendering="crispEdges"/>
<path d="M783.0 506.5h7M782.0 507.5h2M789.0 507.5h2M781.0 508.5h2M790.0 508.5h2M786.5 506.0v-1M783.0 516.5h7M782.0 515.5h2M789.0 515.5h2M781.0 514.5h2M790.0 514.5h2M786.5 517.0v1M781.5 509.0v5M791.5 509.0v5M781.0 511.5h-1M792.0 511.5h1" stroke="#0072b2" stroke-width="1" fill="none" shape-rendering="crispEdges"/>
<path d="M830.0 501.5h7M829.0 502.5h2M836.0 502.5h2M828.0 503.5h2M837.0 503.5h2M833.5 501.0v-1M830.0 511.5h7M829.0 510.5h2M836.0 510.5h2M828.0 509.5h2M837.0 509.5h2M833.5 512.0v1M828.5 504.0v5M838.5 504.0v5M828.0 506.5h-1M839.0 506.5h1" stroke="#0072b2" stroke-width="1" fill="none" shape-rendering="crispEdges"/>
<path d="M837.0 506.5h7M836.0 507.5h2M843.0 507.5h2M835.0 508.5h2M844.0 508.5h2M840.5 506.0v-1M837.0 516.5h7M836.0 515.5h2M843.0 515.5h2M835.0 514.5h2M844.0 514.5h2M840.5 517.0v1M835.5 509.0v5M845.5 509.0v5M835.0 511.5h-1M846.0 511.5h1" stroke="#0072b2" stroke-width="1" fill="none" shape-rendering="crispEdges"/>
<path d="M883.0 499.5h7M882.0 500.5h2M889.0 500.5h2M881.0 501.5h2M890.0 501.5h2M886.5 499.0v-1M883.0 509.5h7M882.0 508.5h2M889.0 508.5h2M881.0 507.5h2M890.0 507.5h2M886.5 510.0v1M881.5 502.0v5M891.5 502.0v5M881.0 504.5h-1M892.0 504.5h1" stroke="#0072b2" stroke-width="1" fill="none" shape-rendering="crispEdges"/>
<path d="M890.0 505.5h7M889.0 506.5h2M896.0 506.5h2M888.0 507.5h2M897.0 507.5h2M893.5 505.0v-1M890.0 515.5h7M889.0 514.5h2M896.0 514.5h2M888.0 513.5h2M897.0 513.5h2M893.5 516.0v1M888.5 508.0v5M898.5 508.0v5M888.0 510.5h-1M899.0 510.5h1" stroke="#0072b2" stroke-width="1" fill="none" shape-rendering="crispEdges"/>
<path d="M937.0 502.5h7M936.0 503.5h2M943.0 503.5h2M935.0 504.5h2M944.0 504.5h2M940.5 502.0v-1M937.0 512.5h7M936.0 511.5h2M943.0 511.5h2M935.0 510.5h2M944.0 510.5h2M940.5 513.0v1M935.5 505.0v5M945.5 505.0v5M935.0 507.5h-1M946.0 507.5h1" stroke="#0072b2" stroke-width="1" fill="none" shape-rendering="crispEdges"/>
<path d="M943.0 503.5h7M942.0 504.5h2M949.0 504.5h2M941.0 505.5h2M950.0 505.5h2M946.5 503.0v-1M943.0 513.5h7M942.0 512.5h2M949.0 512.5h2M941.0 511.5h2M950.0 511.5h2M946.5 514.0v1M941.5 506.0v5M951.5 506.0v5M941.0 508.5h-1M952.0 508.5h1" stroke="#0072b2" stroke-width="1" fill="none" shape-rendering="crispEdges"/>
<path d="M990.0 504.5h7M989.0 505.5h2M996.0 505.5h2M988.0 506.5h2M997.0 506.5h2M993.5 504.0v-1M990.0 514.5h7M989.0 513.5h2M996.0 513.5h2M988.0 512.5h2M997.0 512.5h2M993.5 515.0v1M988.5 507.0v5M998.5 507.0v5M988.0 509.5h-1M999.0 509.5h1" stroke="#0072b2" stroke-width="1" fill="none" shape-rendering="crispEdges"/>
<path d="M996.0 505.5h7M995.0 506.5h2M1002.0 506.5h2M994.0 507.5h2M1003.0 507.5h2M999.5 505.0v-1M996.0 515.5h7M995.0 514.5h2M1002.0 514.5h2M994.0 513.5h2M1003.0 513.5h2M999.5 516.0v1M994.5 508.0v5M1004.5 508.0v5M994.0 510.5h-1M1005.0 510.5h1" stroke="#0072b2" stroke-width="1" fill="none" shape-rendering="crispEdges"/>
<path d="M1043.0 505.5h7M1042.0 506.5h2M1049.0 506.5h2M1041.0 507.5h2M1050.0 507.5h2M1046.5 505.0v-1M1043.0 515.5h7M1042.0 514.5h2M1049.0 514.5h2M1041.0 513.5h2M1050.0 513.5h2M1046.5 516.0v1M1041.5 508.0v5M1051.5 508.0v5M1041.0 510.5h-1M1052.0 510.5h1" stroke="#0072b2" stroke-width="1" fill="none" shape-rendering="crispEdges"/>
<path d="M1049.0 502.5h7M1048.0 503.5h2M1055.0 503.5h2M1047.0 504.5h2M1056.0 504.5h2M1052.5 502.0v-1M1049.0 512.5h7M1048.0 511.5h2M1055.0 511.5h2M1047.0 510.5h2M1056.0 510.5h2M1052.5 513.0v1M1047.5 505.0v5M1057.5 505.0v5M1047.0 507.5h-1M1058.0 507.5h1" stroke="#0072b2" stroke-width="1" fill="none" shape-rendering="crispEdges"/>
<path d="M1096.0 503.5h7M1095.0 504.5h2M1102.0 504.5h2M1094.0 505.5h2M1103.0 505.5h2M1099.5 503.0v-1M1096.0 513.5h7M1095.0 512.5h2M1102.0 512.5h2M1094.0 511.5h2M1103.0 511.5h2M1099.5 514.0v1M1094.5 506.0v5M1104.5 506.0v5M1094.0 508.5h-1M1105.0 508.5h1" stroke="#0072b2" stroke-width="1" fill="none" shape-rendering="crispEdges"/>
<path d="M1102.0 506.5h7M1101.0 507.5h2M1108.0 507.5h2M1100.0 508.5h2M1109.0 508.5h2M1105.5 506.0v-1M1102.0 516.5h7M1101.0 515.5h2M1108.0 515.5h2M1100.0 514.5h2M1109.0 514.5h2M1105.5 517.0v1M1100.5 509.0v5M1110.5 509.0v5M1100.0 511.5h-1M1111.0 511.5h1" stroke="#0072b2" stroke-width="1" fill="none" shape-rendering="crispEdges"/>
<path d="M1149.0 502.5h7M1148.0 503.5h2M1155.0 503.5h2M1147.0 504.5h2M1156.0 504.5h2M1152.5 502.0v-1M1149.0 512.5h7M1148.0 511.5h2M1155.0 511.5h2M1147.0 510.5h2M1156.0 510.5h2M1152.5 513.0v1M1147.5 505.0v5M1157.5 505.0v5M1147.0 507.5h-1M1158.0 507.5h1" stroke="#0072b2" stroke-width="1" fill="none" shape-rendering="crispEdges"/>
<path d="M1155.0 505.5h7M1154.0 506.5h2M1161.0 506.5h2M1153.0 507.5h2M1162.0 507.5h2M1158.5 505.0v-1M1155.0 515.5h7M1154.0 514.5h2M1161.0 514.5h2M1153.0 513.5h2M1162.0 513.5h2M1158.5 516.0v1M1153.5 508.0v5M1163.5 508.0v5M1153.0 510.5h-1M1164.0 510.5h1" stroke="#0072b2" stroke-width="1" fill="none" shape-rendering="crispEdges"/>
<path d="M1202.0 498.5h7M1201.0 499.5h2M1208.0 499.5h2M1200.0 500.5h2M1209.0 500.5h2M1205.5 498.0v-1M1202.0 508.5h7M1201.0 507.5h2M1208.0 507.5h2M1200.0 506.5h2M1209.0 506.5h2M1205.5 509.0v1M1200.5 501.0v5M1210.5 501.0v5M1200.0 503.5h-1M1211.0 503.5h1" stroke="#0072b2" stroke-width="1" fill="none" shape-rendering="crispEdges"/>
<path d="M1208.0 506.5h7M1207.0 507.5h2M1214.0 507.5h2M1206.0 508.5h2M1215.0 508.5h2M1211.5 506.0v-1M1208.0 516.5h7M1207.0 515.5h2M1214.0 515.5h2M1206.0 514.5h2M1215.0 514.5h2M1211.5 517.0v1M1206.5 509.0v5M1216.5 509.0v5M1206.0 511.5h-1M1217.0 511.5h1" stroke="#0072b2" stroke-width="1" fill="none" shape-rendering="crispEdges"/>
<path d="M1255.0 499.5h7M1254.0 500.5h2M1261.0 500.5h2M1253.0 501.5h2M1262.0 501.5h2M1258.5 499.0v-1M1255.0 509.5h7M1254.0 508.5h2M1261.0 508.5h2M1253.0 507.5h2M1262.0 507.5h2M1258.5 510.0v1M1253.5 502.0v5M1263.5 502.0v5M1253.0 504.5h-1M1264.0 504.5h1" stroke="#0072b2" stroke-width="1" fill="none" shape-rendering="crispEdges"/>
<path d="M1262.0 503.5h7M1261.0 504.5h2M1268.0 504.5h2M1260.0 505.5h2M1269.0 505.5h2M1265.5 503.0v-1M1262.0 513.5h7M1261.0 512.5h2M1268.0 512.5h2M1260.0 511.5h2M1269.0 511.5h2M1265.5 514.0v1M1260.5 506.0v5M1270.5 506.0v5M1260.0 508.5h-1M1271.0 508.5h1" stroke="#0072b2" stroke-width="1" fill="none" shape-rendering="crispEdges"/>
<path d="M1308.0 504.5h7M1307.0 505.5h2M1314.0 505.5h2M1306.0 506.5h2M1315.0 506.5h2M1311.5 504.0v-1M1308.0 514.5h7M1307.0 513.5h2M1314.0 513.5h2M1306.0 512.5h2M1315.0 512.5h2M1311.5 515.0v1M1306.5 507.0v5M1316.5 507.0v5M1306.0 509.5h-1M1317.0 509.5h1" stroke="#0072b2" stroke-width="1" fill="none" shape-rendering="crispEdges"/>
<path d="M1315.0 499.5h7M1314.0 500.5h2M1321.0 500.5h2M1313.0 501.5h2M1322.0 501.5h2M1318.5 499.0v-1M1315.0 509.5h7M1314.0 508.5h2M1321.0 508.5h2M1313.0 507.5h2M1322.0 507.5h2M1318.5 510.0v1M1313.5 502.0v5M1323.5 502.0v5M1313.0 504.5h-1M1324.0 504.5h1" stroke="#0072b2" stroke-width="1" fill="none" shape-rendering="crispEdges"/>
<path d="M1362.0 501.5h7M1361.0 502.5h2M1368.0 502.5h2M1360.0 503.5h2M1369.0 503.5h2M1365.5 501.0v-1M1362.0 511.5h7M1361.0 510.5h2M1368.0 510.5h2M1360.0 509.5h2M1369.0 509.5h2M1365.5 512.0v1M1360.5 504.0v5M1370.5 504.0v5M1360.0 506.5h-1M1371.0 506.5h1" stroke="#0072b2" stroke-width="1" fill="none" shape-rendering="crispEdges"/>
<polygon points="93.2,534.0 99.8,534.0 102.0,536.2 102.0,542.8 99.8,545.0 93.2,545.0 91.0,542.8 91.0,536.2" fill="#e51e10" shape-rendering="crispEdges"/>
<path d="M96.5 534.0v-1M96.5 545.0v1M91.0 539.5h-1M102.0 539.5h1" stroke="#e51e10" stroke-width="1" fill="none" shape-rendering="crispEdges"/>
<polygon points="140.2,534.0 146.8,534.0 149.0,536.2 149.0,542.8 146.8,545.0 140.2,545.0 138.0,542.8 138.0,536.2" fill="#e51e10" shape-rendering="crispEdges"/>
<path d="M143.5 534.0v-1M143.5 545.0v1M138.0 539.5h-1M149.0 539.5h1" stroke="#e51e10" stroke-width="1" fill="none" shape-rendering="crispEdges"/>
<polygon points="199.2,534.0 205.8,534.0 208.0,536.2 208.0,542.8 205.8,545.0 199.2,545.0 197.0,542.8 197.0,536.2" fill="#e51e10" shape-rendering="crispEdges"/>
<path d="M202.5 534.0v-1M202.5 545.0v1M197.0 539.5h-1M208.0 539.5h1" stroke="#e51e10" stroke-width="1" fill="none" shape-rendering="crispEdges"/>
<polygon points="246.2,534.0 252.8,534.0 255.0,536.2 255.0,542.8 252.8,545.0 246.2,545.0 244.0,542.8 244.0,536.2" fill="#e51e10" shape-rendering="crispEdges"/>
<path d="M249.5 534.0v-1M249.5 545.0v1M244.0 539.5h-1M255.0 539.5h1" stroke="#e51e10" stroke-width="1" fill="none" shape-rendering="crispEdges"/>
<polygon points="252.2,534.0 258.8,534.0 261.0,536.2 261.0,542.8 258.8,545.0 252.2,545.0 250.0,542.8 250.0,536.2" fill="#e51e10" shape-rendering="crispEdges"/>
<path d="M255.5 534.0v-1M255.5 545.0v1M250.0 539.5h-1M261.0 539.5h1" stroke="#e51e10" stroke-width="1" fill="none" shape-rendering="crispEdges"/>
<polygon points="299.2,534.0 305.8,534.0 308.0,536.2 308.0,542.8 305.8,545.0 299.2,545.0 297.0,542.8 297.0,536.2" fill="#e51e10" shape-rendering="crispEdges"/>
<path d="M302.5 534.0v-1M302.5 545.0v1M297.0 539.5h-1M308.0 539.5h1" stroke="#e51e10" stroke-width="1" fill="none" shape-rendering="crispEdges"/>
<polygon points="305.2,534.0 311.8,534.0 314.0,536.2 314.0,542.8 311.8,545.0 305.2,545.0 303.0,542.8 303.0,536.2" fill="#e51e10" shape-rendering="crispEdges"/>
<path d="M308.5 534.0v-1M308.5 545.0v1M303.0 539.5h-1M314.0 539.5h1" stroke="#e51e10" stroke-width="1" fill="none" shape-rendering="crispEdges"/>
<polygon points="352.2,534.0 358.8,534.0 361.0,536.2 361.0,542.8 358.8,545.0 352.2,545.0 350.0,542.8 350.0,536.2" fill="#e51e10" shape-rendering="crispEdges"/>
<path d="M355.5 534.0v-1M355.5 545.0v1M350.0 539.5h-1M361.0 539.5h1" stroke="#e51e10" stroke-width="1" fill="none" shape-rendering="crispEdges"/>
<polygon points="358.2,534.0 364.8,534.0 367.0,536.2 367.0,542.8 364.8,545.0 358.2,545.0 356.0,542.8 356.0,536.2" fill="#e51e10" shape-rendering="crispEdges"/>
<path d="M361.5 534.0v-1M361.5 545.0v1M356.0 539.5h-1M367.0 539.5h1" stroke="#e51e10" stroke-width="1" fill="none" shape-rendering="crispEdges"/>
<polygon points="405.2,534.0 411.8,534.0 414.0,536.2 414.0,542.8 411.8,545.0 405.2,545.0 403.0,542.8 403.0,536.2" fill="#e51e10" shape-rendering="crispEdges"/>
<path d="M408.5 534.0v-1M408.5 545.0v1M403.0 539.5h-1M414.0 539.5h1" stroke="#e51e10" stroke-width="1" fill="none" shape-rendering="crispEdges"/>
<polygon points="412.2,534.0 418.8,534.0 421.0,536.2 421.0,542.8 418.8,545.0 412.2,545.0 410.0,542.8 410.0,536.2" fill="#e51e10" shape-rendering="crispEdges"/>
<path d="M415.5 534.0v-1M415.5 545.0v1M410.0 539.5h-1M421.0 539.5h1" stroke="#e51e10" stroke-width="1" fill="none" shape-rendering="crispEdges"/>
<polygon points="458.2,534.0 464.8,534.0 467.0,536.2 467.0,542.8 464.8,545.0 458.2,545.0 456.0,542.8 456.0,536.2" fill="#e51e10" shape-rendering="crispEdges"/>
<path d="M461.5 534.0v-1M461.5 545.0v1M456.0 539.5h-1M467.0 539.5h1" stroke="#e51e10" stroke-width="1" fill="none" shape-rendering="crispEdges"/>
<polygon points="465.2,534.0 471.8,534.0 474.0,536.2 474.0,542.8 471.8,545.0 465.2,545.0 463.0,542.8 463.0,536.2" fill="#e51e10" shape-rendering="crispEdges"/>
<path d="M468.5 534.0v-1M468.5 545.0v1M463.0 539.5h-1M474.0 539.5h1" stroke="#e51e10" stroke-width="1" fill="none" shape-rendering="crispEdges"/>
<polygon points="512.2,534.0 518.8,534.0 521.0,536.2 521.0,542.8 518.8,545.0 512.2,545.0 510.0,542.8 510.0,536.2" fill="#e51e10" shape-rendering="crispEdges"/>
<path d="M515.5 534.0v-1M515.5 545.0v1M510.0 539.5h-1M521.0 539.5h1" stroke="#e51e10" stroke-width="1" fill="none" shape-rendering="crispEdges"/>
<polygon points="518.2,534.0 524.8,534.0 527.0,536.2 527.0,542.8 524.8,545.0 518.2,545.0 516.0,542.8 516.0,536.2" fill="#e51e10" shape-rendering="crispEdges"/>
<path d="M521.5 534.0v-1M521.5 545.0v1M516.0 539.5h-1M527.0 539.5h1" stroke="#e51e10" stroke-width="1" fill="none" shape-rendering="crispEdges"/>
<polygon points="565.2,534.0 571.8,534.0 574.0,536.2 574.0,542.8 571.8,545.0 565.2,545.0 563.0,542.8 563.0,536.2" fill="#e51e10" shape-rendering="crispEdges"/>
<path d="M568.5 534.0v-1M568.5 545.0v1M563.0 539.5h-1M574.0 539.5h1" stroke="#e51e10" stroke-width="1" fill="none" shape-rendering="crispEdges"/>
<polygon points="571.2,534.0 577.8,534.0 580.0,536.2 580.0,542.8 577.8,545.0 571.2,545.0 569.0,542.8 569.0,536.2" fill="#e51e10" shape-rendering="crispEdges"/>
<path d="M574.5 534.0v-1M574.5 545.0v1M569.0 539.5h-1M580.0 539.5h1" stroke="#e51e10" stroke-width="1" fill="none" shape-rendering="crispEdges"/>
<polygon points="618.2,534.0 624.8,534.0 627.0,536.2 627.0,542.8 624.8,545.0 618.2,545.0 616.0,542.8 616.0,536.2" fill="#e51e10" shape-rendering="crispEdges"/>
<path d="M621.5 534.0v-1M621.5 545.0v1M616.0 539.5h-1M627.0 539.5h1" stroke="#e51e10" stroke-width="1" fill="none" shape-rendering="crispEdges"/>
<polygon points="624.2,534.0 630.8,534.0 633.0,536.2 633.0,542.8 630.8,545.0 624.2,545.0 622.0,542.8 622.0,536.2" fill="#e51e10" shape-rendering="crispEdges"/>
<path d="M627.5 534.0v-1M627.5 545.0v1M622.0 539.5h-1M633.0 539.5h1" stroke="#e51e10" stroke-width="1" fill="none" shape-rendering="crispEdges"/>
<polygon points="671.2,534.0 677.8,534.0 680.0,536.2 680.0,542.8 677.8,545.0 671.2,545.0 669.0,542.8 669.0,536.2" fill="#e51e10" shape-rendering="crispEdges"/>
<path d="M674.5 534.0v-1M674.5 545.0v1M669.0 539.5h-1M680.0 539.5h1" stroke="#e51e10" stroke-width="1" fill="none" shape-rendering="crispEdges"/>
<polygon points="677.2,534.0 683.8,534.0 686.0,536.2 686.0,542.8 683.8,545.0 677.2,545.0 675.0,542.8 675.0,536.2" fill="#e51e10" shape-rendering="crispEdges"/>
<path d="M680.5 534.0v-1M680.5 545.0v1M675.0 539.5h-1M686.0 539.5h1" stroke="#e51e10" stroke-width="1" fill="none" shape-rendering="crispEdges"/>
<polygon points="724.2,534.0 730.8,534.0 733.0,536.2 733.0,542.8 730.8,545.0 724.2,545.0 722.0,542.8 722.0,536.2" fill="#e51e10" shape-rendering="crispEdges"/>
<path d="M727.5 534.0v-1M727.5 545.0v1M722.0 539.5h-1M733.0 539.5h1" stroke="#e51e10" stroke-width="1" fill="none" shape-rendering="crispEdges"/>
<polygon points="730.2,532.0 736.8,532.0 739.0,534.2 739.0,540.8 736.8,543.0 730.2,543.0 728.0,540.8 728.0,534.2" fill="#e51e10" shape-rendering="crispEdges"/>
<path d="M733.5 532.0v-1M733.5 543.0v1M728.0 537.5h-1M739.0 537.5h1" stroke="#e51e10" stroke-width="1" fill="none" shape-rendering="crispEdges"/>
<polygon points="777.2,534.0 783.8,534.0 786.0,536.2 786.0,542.8 783.8,545.0 777.2,545.0 775.0,542.8 775.0,536.2" fill="#e51e10" shape-rendering="crispEdges"/>
<path d="M780.5 534.0v-1M780.5 545.0v1M775.0 539.5h-1M786.0 539.5h1" stroke="#e51e10" stroke-width="1" fill="none" shape-rendering="crispEdges"/>
<polygon points="783.2,534.0 789.8,534.0 792.0,536.2 792.0,542.8 789.8,545.0 783.2,545.0 781.0,542.8 781.0,536.2" fill="#e51e10" shape-rendering="crispEdges"/>
<path d="M786.5 534.0v-1M786.5 545.0v1M781.0 539.5h-1M792.0 539.5h1" stroke="#e51e10" stroke-width="1" fill="none" shape-rendering="crispEdges"/>
<polygon points="830.2,534.0 836.8,534.0 839.0,536.2 839.0,542.8 836.8,545.0 830.2,545.0 828.0,542.8 828.0,536.2" fill="#e51e10" shape-rendering="crispEdges"/>
<path d="M833.5 534.0v-1M833.5 545.0v1M828.0 539.5h-1M839.0 539.5h1" stroke="#e51e10" stroke-width="1" fill="none" shape-rendering="crispEdges"/>
<polygon points="837.2,534.0 843.8,534.0 846.0,536.2 846.0,542.8 843.8,545.0 837.2,545.0 835.0,542.8 835.0,536.2" fill="#e51e10" shape-rendering="crispEdges"/>
<path d="M840.5 534.0v-1M840.5 545.0v1M835.0 539.5h-1M846.0 539.5h1" stroke="#e51e10" stroke-width="1" fill="none" shape-rendering="crispEdges"/>
<polygon points="883.2,534.0 889.8,534.0 892.0,536.2 892.0,542.8 889.8,545.0 883.2,545.0 881.0,542.8 881.0,536.2" fill="#e51e10" shape-rendering="crispEdges"/>
<path d="M886.5 534.0v-1M886.5 545.0v1M881.0 539.5h-1M892.0 539.5h1" stroke="#e51e10" stroke-width="1" fill="none" shape-rendering="crispEdges"/>
<polygon points="890.2,534.0 896.8,534.0 899.0,536.2 899.0,542.8 896.8,545.0 890.2,545.0 888.0,542.8 888.0,536.2" fill="#e51e10" shape-rendering="crispEdges"/>
<path d="M893.5 534.0v-1M893.5 545.0v1M888.0 539.5h-1M899.0 539.5h1" stroke="#e51e10" stroke-width="1" fill="none" shape-rendering="crispEdges"/>
<polygon points="937.2,534.0 943.8,534.0 946.0,536.2 946.0,542.8 943.8,545.0 937.2,545.0 935.0,542.8 935.0,536.2" fill="#e51e10" shape-rendering="crispEdges"/>
<path d="M940.5 534.0v-1M940.5 545.0v1M935.0 539.5h-1M946.0 539.5h1" stroke="#e51e10" stroke-width="1" fill="none" shape-rendering="crispEdges"/>
<polygon points="943.2,534.0 949.8,534.0 952.0,536.2 952.0,542.8 949.8,545.0 943.2,545.0 941.0,542.8 941.0,536.2" fill="#e51e10" shape-rendering="crispEdges"/>
<path d="M946.5 534.0v-1M946.5 545.0v1M941.0 539.5h-1M952.0 539.5h1" stroke="#e51e10" stroke-width="1" fill="none" shape-rendering="crispEdges"/>
<polygon points="990.2,534.0 996.8,534.0 999.0,536.2 999.0,542.8 996.8,545.0 990.2,545.0 988.0,542.8 988.0,536.2" fill="#e51e10" shape-rendering="crispEdges"/>
<path d="M993.5 534.0v-1M993.5 545.0v1M988.0 539.5h-1M999.0 539.5h1" stroke="#e51e10" stroke-width="1" fill="none" shape-rendering="crispEdges"/>
<polygon points="996.2,534.0 1002.8,534.0 1005.0,536.2 1005.0,542.8 1002.8,545.0 996.2,545.0 994.0,542.8 994.0,536.2" fill="#e51e10" shape-rendering="crispEdges"/>
<path d="M999.5 534.0v-1M999.5 545.0v1M994.0 539.5h-1M1005.0 539.5h1" stroke="#e51e10" stroke-width="1" fill="none" shape-rendering="crispEdges"/>
<polygon points="1043.2,534.0 1049.8,534.0 1052.0,536.2 1052.0,542.8 1049.8,545.0 1043.2,545.0 1041.0,542.8 1041.0,536.2" fill="#e51e10" shape-rendering="crispEdges"/>
<path d="M1046.5 534.0v-1M1046.5 545.0v1M1041.0 539.5h-1M1052.0 539.5h1" stroke="#e51e10" stroke-width="1" fill="none" shape-rendering="crispEdges"/>
<polygon points="1049.2,534.0 1055.8,534.0 1058.0,536.2 1058.0,542.8 1055.8,545.0 1049.2,545.0 1047.0,542.8 1047.0,536.2" fill="#e51e10" shape-rendering="crispEdges"/>
<path d="M1052.5 534.0v-1M1052.5 545.0v1M1047.0 539.5h-1M1058.0 539.5h1" stroke="#e51e10" stroke-width="1" fill="none" shape-rendering="crispEdges"/>
<polygon points="1096.2,534.0 1102.8,534.0 1105.0,536.2 1105.0,542.8 1102.8,545.0 1096.2,545.0 1094.0,542.8 1094.0,536.2" fill="#e51e10" shape-rendering="crispEdges"/>
<path d="M1099.5 534.0v-1M1099.5 545.0v1M1094.0 539.5h-1M1105.0 539.5h1" stroke="#e51e10" stroke-width="1" fill="none" shape-rendering="crispEdges"/>
<polygon points="1102.2,534.0 1108.8,534.0 1111.0,536.2 1111.0,542.8 1108.8,545.0 1102.2,545.0 1100.0,542.8 1100.0,536.2" fill="#e51e10" shape-rendering="crispEdges"/>
<path d="M1105.5 534.0v-1M1105.5 545.0v1M1100.0 539.5h-1M1111.0 539.5h1" stroke="#e51e10" stroke-width="1" fill="none" shape-rendering="crispEdges"/>
<polygon points="1149.2,534.0 1155.8,534.0 1158.0,536.2 1158.0,542.8 1155.8,545.0 1149.2,545.0 1147.0,542.8 1147.0,536.2" fill="#e51e10" shape-rendering="crispEdges"/>
<path d="M1152.5 534.0v-1M1152.5 545.0v1M1147.0 539.5h-1M1158.0 539.5h1" stroke="#e51e10" stroke-width="1" fill="none" shape-rendering="crispEdges"/>
<polygon points="1155.2,534.0 1161.8,534.0 1164.0,536.2 1164.0,542.8 1161.8,545.0 1155.2,545.0 1153.0,542.8 1153.0,536.2" fill="#e51e10" shape-rendering="crispEdges"/>
<path d="M1158.5 534.0v-1M1158.5 545.0v1M1153.0 539.5h-1M1164.0 539.5h1" stroke="#e51e10" stroke-width="1" fill="none" shape-rendering="crispEdges"/>
<polygon points="1202.2,534.0 1208.8,534.0 1211.0,536.2 1211.0,542.8 1208.8,545.0 1202.2,545.0 1200.0,542.8 1200.0,536.2" fill="#e51e10" shape-rendering="crispEdges"/>
<path d="M1205.5 534.0v-1M1205.5 545.0v1M1200.0 539.5h-1M1211.0 539.5h1" stroke="#e51e10" stroke-width="1" fill="none" shape-rendering="crispEdges"/>
<polygon points="1208.2,534.0 1214.8,534.0 1217.0,536.2 1217.0,542.8 1214.8,545.0 1208.2,545.0 1206.0,542.8 1206.0,536.2" fill="#e51e10" shape-rendering="crispEdges"/>
<path d="M1211.5 534.0v-1M1211.5 545.0v1M1206.0 539.5h-1M1217.0 539.5h1" stroke="#e51e10" stroke-width="1" fill="none" shape-rendering="crispEdges"/>
<polygon points="1255.2,534.0 1261.8,534.0 1264.0,536.2 1264.0,542.8 1261.8,545.0 1255.2,545.0 1253.0,542.8 1253.0,536.2" fill="#e51e10" shape-rendering="crispEdges"/>
<path d="M1258.5 534.0v-1M1258.5 545.0v1M1253.0 539.5h-1M1264.0 539.5h1" stroke="#e51e10" stroke-width="1" fill="none" shape-rendering="crispEdges"/>
<polygon points="1262.2,534.0 1268.8,534.0 1271.0,536.2 1271.0,542.8 1268.8,545.0 1262.2,545.0 1260.0,542.8 1260.0,536.2" fill="#e51e10" shape-rendering="crispEdges"/>
<path d="M1265.5 534.0v-1M1265.5 545.0v1M1260.0 539.5h-1M1271.0 539.5h1" stroke="#e51e10" stroke-width="1" fill="none" shape-rendering="crispEdges"/>
<polygon points="1308.2,534.0 1314.8,534.0 1317.0,536.2 1317.0,542.8 1314.8,545.0 1308.2,545.0 1306.0,542.8 1306.0,536.2" fill="#e51e10" shape-rendering="crispEdges"/>
<path d="M1311.5 534.0v-1M1311.5 545.0v1M1306.0 539.5h-1M1317.0 539.5h1" stroke="#e51e10" stroke-width="1" fill="none" shape-rendering="crispEdges"/>
<polygon points="1315.2,534.0 1321.8,534.0 1324.0,536.2 1324.0,542.8 1321.8,545.0 1315.2,545.0 1313.0,542.8 1313.0,536.2" fill="#e51e10" shape-rendering="crispEdges"/>
<path d="M1318.5 534.0v-1M1318.5 545.0v1M1313.0 539.5h-1M1324.0 539.5h1" stroke="#e51e10" stroke-width="1" fill="none" shape-rendering="crispEdges"/>
<polygon points="1362.2,534.0 1368.8,534.0 1371.0,536.2 1371.0,542.8 1368.8,545.0 1362.2,545.0 1360.0,542.8 1360.0,536.2" fill="#e51e10" shape-rendering="crispEdges"/>
<path d="M1365.5 534.0v-1M1365.5 545.0v1M1360.0 539.5h-1M1371.0 539.5h1" stroke="#e51e10" stroke-width="1" fill="none" shape-rendering="crispEdges"/>
<polygon points="200.5,456.5 192.5,468.5 208.5,468.5" fill="none" stroke="#000" stroke-width="1" shape-rendering="crispEdges"/>
<polygon points="206.5,456.5 198.5,468.5 214.5,468.5" fill="none" stroke="#000" stroke-width="1" shape-rendering="crispEdges"/>
<polygon points="214.5,456.5 206.5,468.5 222.5,468.5" fill="none" stroke="#000" stroke-width="1" shape-rendering="crispEdges"/>
<polygon points="222.5,456.5 214.5,468.5 230.5,468.5" fill="none" stroke="#000" stroke-width="1" shape-rendering="crispEdges"/>
<polygon points="229.5,456.5 221.5,468.5 237.5,468.5" fill="none" stroke="#000" stroke-width="1" shape-rendering="crispEdges"/>
<polygon points="236.5,456.5 228.5,468.5 244.5,468.5" fill="none" stroke="#000" stroke-width="1" shape-rendering="crispEdges"/>
<polygon points="243.5,456.5 235.5,468.5 251.5,468.5" fill="none" stroke="#000" stroke-width="1" shape-rendering="crispEdges"/>
<polygon points="260.5,456.5 252.5,468.5 268.5,468.5" fill="none" stroke="#000" stroke-width="1" shape-rendering="crispEdges"/>
<polygon points="200.5,402.5 192.5,414.5 208.5,414.5" fill="#9400d3" stroke="#9400d3" stroke-width="1" shape-rendering="crispEdges"/>
<path d="M194.0 371.5h13M200.5 365.0v13" stroke="#009e73" stroke-width="1" fill="none" shape-rendering="crispEdges"/>
<polygon points="200.5,340.5 192.5,328.5 208.5,328.5" fill="none" stroke="#56b4e9" stroke-width="1" shape-rendering="crispEdges"/>
<polygon points="200.5,359.5 192.5,347.5 208.5,347.5" fill="none" stroke="#e69f00" stroke-width="1" shape-rendering="crispEdges"/>
<text x="1290.5" y="77" text-anchor="end" textLength="181.5" lengthAdjust="spacing">"Ypingresult.txt" using 1:2</text>
<text x="1290.5" y="96" text-anchor="end" textLength="199.5" lengthAdjust="spacing">"YTimetcpping.txt" using 1:2</text>
<text x="1290.5" y="115" text-anchor="end" textLength="248.5" lengthAdjust="spacing">"YCustPingSiteTimes.txt" using 1:2</text>
<text x="1290.5" y="134" text-anchor="end" textLength="194.5" lengthAdjust="spacing">"Yofflineresult.txt" using 1:2</text>
<text x="1290.5" y="153" text-anchor="end" textLength="206.5" lengthAdjust="spacing">"Ytcpoff_record.txt" using 1:2</text>
<text x="1290.5" y="172" text-anchor="end" textLength="169.0" lengthAdjust="spacing">"Ycurltime.txt" using 1:2</text>
<text x="1290.5" y="191" text-anchor="end" textLength="195.5" lengthAdjust="spacing">"Ycurldnstime.txt" using 1:2</text>
<text x="1290.5" y="210" text-anchor="end" textLength="235.5" lengthAdjust="spacing">"YCustPingTimeout.txt" using 1:2</text>
<text x="1290.5" y="229" text-anchor="end" textLength="215.5" lengthAdjust="spacing">"Ypingtargetchange" using 1:2</text>
<text x="1290.5" y="248" text-anchor="end" textLength="205.5" lengthAdjust="spacing">"YHPpingresult.txt" using 1:2</text>
<text x="1290.5" y="267" text-anchor="end" textLength="219.5" lengthAdjust="spacing">"YpingtargetISrouter" using 1:2</text>
<text x="1290.5" y="286" text-anchor="end" textLength="139.5" lengthAdjust="spacing">"Ynoipv6" using 1:2</text>
<path class="ln" stroke="#9400d3" d="M1303 73.5H1350"/>
<path class="ln" stroke="#009e73" d="M1303 92.5H1350"/>
<path class="ln" stroke="#56b4e9" d="M1303 111.5H1350"/>
<rect x="1320.5" y="124.5" width="12" height="12" fill="none" stroke="#e69f00" stroke-width="1" shape-rendering="crispEdges"/>
<rect x="1320.0" y="143.0" width="13" height="13" fill="#f0e442" shape-rendering="crispEdges"/>
<path d="M1323.0 163.5h7M1322.0 164.5h2M1329.0 164.5h2M1321.0 165.5h2M1330.0 165.5h2M1326.5 163.0v-1M1323.0 173.5h7M1322.0 172.5h2M1329.0 172.5h2M1321.0 171.5h2M1330.0 171.5h2M1326.5 174.0v1M1321.5 166.0v5M1331.5 166.0v5M1321.0 168.5h-1M1332.0 168.5h1" stroke="#0072b2" stroke-width="1" fill="none" shape-rendering="crispEdges"/>
<polygon points="1323.2,182.0 1329.8,182.0 1332.0,184.2 1332.0,190.8 1329.8,193.0 1323.2,193.0 1321.0,190.8 1321.0,184.2" fill="#e51e10" shape-rendering="crispEdges"/>
<path d="M1326.5 182.0v-1M1326.5 193.0v1M1321.0 187.5h-1M1332.0 187.5h1" stroke="#e51e10" stroke-width="1" fill="none" shape-rendering="crispEdges"/>
<polygon points="1326.5,198.5 1318.5,210.5 1334.5,210.5" fill="none" stroke="#000" stroke-width="1" shape-rendering="crispEdges"/>
<polygon points="1326.5,217.5 1318.5,229.5 1334.5,229.5" fill="#9400d3" stroke="#9400d3" stroke-width="1" shape-rendering="crispEdges"/>
<path d="M1320.0 244.5h13M1326.5 238.0v13" stroke="#009e73" stroke-width="1" fill="none" shape-rendering="crispEdges"/>
<polygon points="1326.5,271.5 1318.5,259.5 1334.5,259.5" fill="none" stroke="#56b4e9" stroke-width="1" shape-rendering="crispEdges"/>
<polygon points="1326.5,290.5 1318.5,278.5 1334.5,278.5" fill="none" stroke="#e69f00" stroke-width="1" shape-rendering="crispEdges"/>
<rect class="fr" x="94.5" y="57.5" width="1275.0" height="482.0"/>
</svg></body></html>
